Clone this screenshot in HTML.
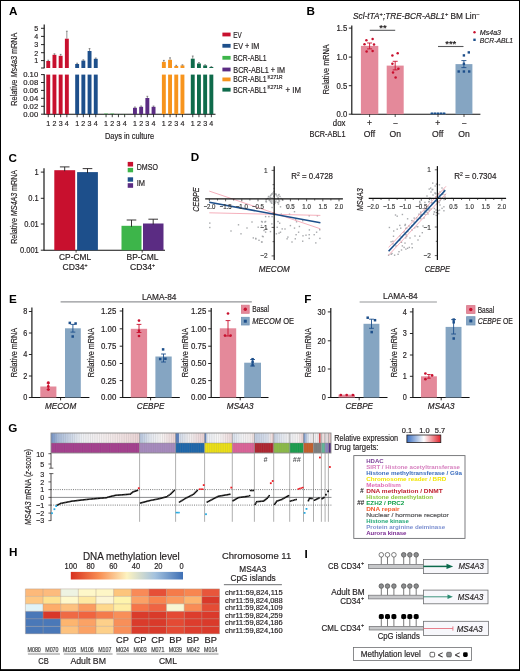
<!DOCTYPE html>
<html><head><meta charset="utf-8"><style>
html,body{margin:0;padding:0;background:#fff;}
svg{display:block;will-change:transform;}
text{font-family:"Liberation Sans",sans-serif;}
</style></head><body>
<svg width="520" height="671" viewBox="0 0 520 671">
<rect width="520" height="671" fill="#fff"/>
<text x="9.0" y="15.1" font-size="11.7" font-weight="bold" fill="#000">A</text>
<line x1="44.20" y1="24.60" x2="44.20" y2="68.30" stroke="#111111" stroke-width="1.15"/>
<line x1="41.00" y1="28.30" x2="44.20" y2="28.30" stroke="#111111" stroke-width="0.9"/>
<line x1="41.00" y1="36.40" x2="44.20" y2="36.40" stroke="#111111" stroke-width="0.9"/>
<line x1="41.00" y1="44.60" x2="44.20" y2="44.60" stroke="#111111" stroke-width="0.9"/>
<line x1="41.00" y1="52.70" x2="44.20" y2="52.70" stroke="#111111" stroke-width="0.9"/>
<line x1="41.00" y1="60.60" x2="44.20" y2="60.60" stroke="#111111" stroke-width="0.9"/>
<line x1="41.00" y1="68.00" x2="44.20" y2="68.00" stroke="#111111" stroke-width="0.9"/>
<text x="38.30" y="31.15" font-size="7.92" fill="#231f20" stroke="#231f20" stroke-width="0.18" text-anchor="end" textLength="3.96" lengthAdjust="spacingAndGlyphs">5</text>
<text x="38.30" y="39.25" font-size="7.92" fill="#231f20" stroke="#231f20" stroke-width="0.18" text-anchor="end" textLength="3.96" lengthAdjust="spacingAndGlyphs">4</text>
<text x="38.30" y="47.45" font-size="7.92" fill="#231f20" stroke="#231f20" stroke-width="0.18" text-anchor="end" textLength="3.96" lengthAdjust="spacingAndGlyphs">3</text>
<text x="38.30" y="55.55" font-size="7.92" fill="#231f20" stroke="#231f20" stroke-width="0.18" text-anchor="end" textLength="3.96" lengthAdjust="spacingAndGlyphs">2</text>
<text x="38.30" y="63.45" font-size="7.92" fill="#231f20" stroke="#231f20" stroke-width="0.18" text-anchor="end" textLength="3.96" lengthAdjust="spacingAndGlyphs">1</text>
<line x1="44.20" y1="74.30" x2="44.20" y2="114.60" stroke="#111111" stroke-width="1.15"/>
<line x1="41.00" y1="74.60" x2="44.20" y2="74.60" stroke="#111111" stroke-width="0.9"/>
<text x="23.20" y="77.37" font-size="7.7" fill="#231f20" stroke="#231f20" stroke-width="0.18" textLength="15.00" lengthAdjust="spacingAndGlyphs">0.10</text>
<line x1="41.00" y1="82.50" x2="44.20" y2="82.50" stroke="#111111" stroke-width="0.9"/>
<text x="23.20" y="85.27" font-size="7.7" fill="#231f20" stroke="#231f20" stroke-width="0.18" textLength="15.00" lengthAdjust="spacingAndGlyphs">0.08</text>
<line x1="41.00" y1="90.40" x2="44.20" y2="90.40" stroke="#111111" stroke-width="0.9"/>
<text x="23.20" y="93.17" font-size="7.7" fill="#231f20" stroke="#231f20" stroke-width="0.18" textLength="15.00" lengthAdjust="spacingAndGlyphs">0.06</text>
<line x1="41.00" y1="98.30" x2="44.20" y2="98.30" stroke="#111111" stroke-width="0.9"/>
<text x="23.20" y="101.07" font-size="7.7" fill="#231f20" stroke="#231f20" stroke-width="0.18" textLength="15.00" lengthAdjust="spacingAndGlyphs">0.04</text>
<line x1="41.00" y1="106.30" x2="44.20" y2="106.30" stroke="#111111" stroke-width="0.9"/>
<text x="23.20" y="109.07" font-size="7.7" fill="#231f20" stroke="#231f20" stroke-width="0.18" textLength="15.00" lengthAdjust="spacingAndGlyphs">0.02</text>
<line x1="41.00" y1="114.20" x2="44.20" y2="114.20" stroke="#111111" stroke-width="0.9"/>
<text x="23.20" y="116.97" font-size="7.7" fill="#231f20" stroke="#231f20" stroke-width="0.18" textLength="15.00" lengthAdjust="spacingAndGlyphs">0.00</text>
<line x1="44.20" y1="114.20" x2="215.50" y2="114.20" stroke="#111111" stroke-width="1.15"/>
<text transform="translate(17.13,69.20) rotate(-90)" font-size="8.69" fill="#231f20" stroke="#231f20" stroke-width="0.18" text-anchor="middle" textLength="73.00" lengthAdjust="spacingAndGlyphs">Relative <tspan font-style="italic">Ms4a3</tspan> mRNA</text>
<rect x="46.30" y="74.60" width="3.90" height="39.60" fill="#c8102e"/>
<rect x="46.30" y="61.00" width="3.90" height="7.00" fill="#c8102e"/>
<line x1="48.25" y1="60.20" x2="48.25" y2="61.00" stroke="#4a4a4a" stroke-width="0.6"/>
<line x1="47.35" y1="60.20" x2="49.15" y2="60.20" stroke="#4a4a4a" stroke-width="0.6"/>
<line x1="48.25" y1="114.20" x2="48.25" y2="117.20" stroke="#111111" stroke-width="0.8"/>
<text x="48.25" y="126.45" font-size="7.92" fill="#231f20" stroke="#231f20" stroke-width="0.18" text-anchor="middle" textLength="3.96" lengthAdjust="spacingAndGlyphs">1</text>
<rect x="52.50" y="74.60" width="3.90" height="39.60" fill="#c8102e"/>
<rect x="52.50" y="54.80" width="3.90" height="13.20" fill="#c8102e"/>
<line x1="54.45" y1="53.80" x2="54.45" y2="54.80" stroke="#4a4a4a" stroke-width="0.6"/>
<line x1="53.55" y1="53.80" x2="55.35" y2="53.80" stroke="#4a4a4a" stroke-width="0.6"/>
<line x1="54.45" y1="114.20" x2="54.45" y2="117.20" stroke="#111111" stroke-width="0.8"/>
<text x="54.45" y="126.45" font-size="7.92" fill="#231f20" stroke="#231f20" stroke-width="0.18" text-anchor="middle" textLength="3.96" lengthAdjust="spacingAndGlyphs">2</text>
<rect x="58.70" y="74.60" width="3.90" height="39.60" fill="#c8102e"/>
<rect x="58.70" y="55.80" width="3.90" height="12.20" fill="#c8102e"/>
<line x1="60.65" y1="54.40" x2="60.65" y2="55.80" stroke="#4a4a4a" stroke-width="0.6"/>
<line x1="59.75" y1="54.40" x2="61.55" y2="54.40" stroke="#4a4a4a" stroke-width="0.6"/>
<line x1="60.65" y1="114.20" x2="60.65" y2="117.20" stroke="#111111" stroke-width="0.8"/>
<text x="60.65" y="126.45" font-size="7.92" fill="#231f20" stroke="#231f20" stroke-width="0.18" text-anchor="middle" textLength="3.96" lengthAdjust="spacingAndGlyphs">3</text>
<rect x="64.90" y="74.60" width="3.90" height="39.60" fill="#c8102e"/>
<rect x="64.90" y="38.70" width="3.90" height="29.30" fill="#c8102e"/>
<line x1="66.85" y1="31.20" x2="66.85" y2="38.70" stroke="#4a4a4a" stroke-width="0.6"/>
<line x1="65.95" y1="31.20" x2="67.75" y2="31.20" stroke="#4a4a4a" stroke-width="0.6"/>
<line x1="66.85" y1="114.20" x2="66.85" y2="117.20" stroke="#111111" stroke-width="0.8"/>
<text x="66.85" y="126.45" font-size="7.92" fill="#231f20" stroke="#231f20" stroke-width="0.18" text-anchor="middle" textLength="3.96" lengthAdjust="spacingAndGlyphs">4</text>
<rect x="75.20" y="74.60" width="3.90" height="39.60" fill="#1d4f8b"/>
<rect x="75.20" y="64.00" width="3.90" height="4.00" fill="#1d4f8b"/>
<line x1="77.15" y1="63.20" x2="77.15" y2="64.00" stroke="#4a4a4a" stroke-width="0.6"/>
<line x1="76.25" y1="63.20" x2="78.05" y2="63.20" stroke="#4a4a4a" stroke-width="0.6"/>
<line x1="77.15" y1="114.20" x2="77.15" y2="117.20" stroke="#111111" stroke-width="0.8"/>
<text x="77.15" y="126.45" font-size="7.92" fill="#231f20" stroke="#231f20" stroke-width="0.18" text-anchor="middle" textLength="3.96" lengthAdjust="spacingAndGlyphs">1</text>
<rect x="81.40" y="74.60" width="3.90" height="39.60" fill="#1d4f8b"/>
<rect x="81.40" y="60.60" width="3.90" height="7.40" fill="#1d4f8b"/>
<line x1="83.35" y1="59.80" x2="83.35" y2="60.60" stroke="#4a4a4a" stroke-width="0.6"/>
<line x1="82.45" y1="59.80" x2="84.25" y2="59.80" stroke="#4a4a4a" stroke-width="0.6"/>
<line x1="83.35" y1="114.20" x2="83.35" y2="117.20" stroke="#111111" stroke-width="0.8"/>
<text x="83.35" y="126.45" font-size="7.92" fill="#231f20" stroke="#231f20" stroke-width="0.18" text-anchor="middle" textLength="3.96" lengthAdjust="spacingAndGlyphs">2</text>
<rect x="87.60" y="74.60" width="3.90" height="39.60" fill="#1d4f8b"/>
<rect x="87.60" y="51.00" width="3.90" height="17.00" fill="#1d4f8b"/>
<line x1="89.55" y1="48.60" x2="89.55" y2="51.00" stroke="#4a4a4a" stroke-width="0.6"/>
<line x1="88.65" y1="48.60" x2="90.45" y2="48.60" stroke="#4a4a4a" stroke-width="0.6"/>
<line x1="89.55" y1="114.20" x2="89.55" y2="117.20" stroke="#111111" stroke-width="0.8"/>
<text x="89.55" y="126.45" font-size="7.92" fill="#231f20" stroke="#231f20" stroke-width="0.18" text-anchor="middle" textLength="3.96" lengthAdjust="spacingAndGlyphs">3</text>
<rect x="93.80" y="74.60" width="3.90" height="39.60" fill="#1d4f8b"/>
<rect x="93.80" y="58.80" width="3.90" height="9.20" fill="#1d4f8b"/>
<line x1="95.75" y1="58.00" x2="95.75" y2="58.80" stroke="#4a4a4a" stroke-width="0.6"/>
<line x1="94.85" y1="58.00" x2="96.65" y2="58.00" stroke="#4a4a4a" stroke-width="0.6"/>
<line x1="95.75" y1="114.20" x2="95.75" y2="117.20" stroke="#111111" stroke-width="0.8"/>
<text x="95.75" y="126.45" font-size="7.92" fill="#231f20" stroke="#231f20" stroke-width="0.18" text-anchor="middle" textLength="3.96" lengthAdjust="spacingAndGlyphs">4</text>
<rect x="104.10" y="113.60" width="3.90" height="0.60" fill="#3db54a"/>
<line x1="106.05" y1="114.20" x2="106.05" y2="117.20" stroke="#111111" stroke-width="0.8"/>
<text x="106.05" y="126.45" font-size="7.92" fill="#231f20" stroke="#231f20" stroke-width="0.18" text-anchor="middle" textLength="3.96" lengthAdjust="spacingAndGlyphs">1</text>
<rect x="110.30" y="113.60" width="3.90" height="0.60" fill="#3db54a"/>
<line x1="112.25" y1="114.20" x2="112.25" y2="117.20" stroke="#111111" stroke-width="0.8"/>
<text x="112.25" y="126.45" font-size="7.92" fill="#231f20" stroke="#231f20" stroke-width="0.18" text-anchor="middle" textLength="3.96" lengthAdjust="spacingAndGlyphs">2</text>
<rect x="116.50" y="114.00" width="3.90" height="0.20" fill="#3db54a"/>
<line x1="118.45" y1="114.20" x2="118.45" y2="117.20" stroke="#111111" stroke-width="0.8"/>
<text x="118.45" y="126.45" font-size="7.92" fill="#231f20" stroke="#231f20" stroke-width="0.18" text-anchor="middle" textLength="3.96" lengthAdjust="spacingAndGlyphs">3</text>
<rect x="122.70" y="114.00" width="3.90" height="0.20" fill="#3db54a"/>
<line x1="124.65" y1="114.20" x2="124.65" y2="117.20" stroke="#111111" stroke-width="0.8"/>
<text x="124.65" y="126.45" font-size="7.92" fill="#231f20" stroke="#231f20" stroke-width="0.18" text-anchor="middle" textLength="3.96" lengthAdjust="spacingAndGlyphs">4</text>
<rect x="133.00" y="107.80" width="3.90" height="6.40" fill="#5b2c83"/>
<line x1="134.95" y1="107.00" x2="134.95" y2="107.80" stroke="#4a4a4a" stroke-width="0.6"/>
<line x1="134.05" y1="107.00" x2="135.85" y2="107.00" stroke="#4a4a4a" stroke-width="0.6"/>
<line x1="134.95" y1="114.20" x2="134.95" y2="117.20" stroke="#111111" stroke-width="0.8"/>
<text x="134.95" y="126.45" font-size="7.92" fill="#231f20" stroke="#231f20" stroke-width="0.18" text-anchor="middle" textLength="3.96" lengthAdjust="spacingAndGlyphs">1</text>
<rect x="139.20" y="106.80" width="3.90" height="7.40" fill="#5b2c83"/>
<line x1="141.15" y1="106.00" x2="141.15" y2="106.80" stroke="#4a4a4a" stroke-width="0.6"/>
<line x1="140.25" y1="106.00" x2="142.05" y2="106.00" stroke="#4a4a4a" stroke-width="0.6"/>
<line x1="141.15" y1="114.20" x2="141.15" y2="117.20" stroke="#111111" stroke-width="0.8"/>
<text x="141.15" y="126.45" font-size="7.92" fill="#231f20" stroke="#231f20" stroke-width="0.18" text-anchor="middle" textLength="3.96" lengthAdjust="spacingAndGlyphs">2</text>
<rect x="145.40" y="98.00" width="3.90" height="16.20" fill="#5b2c83"/>
<line x1="147.35" y1="96.30" x2="147.35" y2="98.00" stroke="#4a4a4a" stroke-width="0.6"/>
<line x1="146.45" y1="96.30" x2="148.25" y2="96.30" stroke="#4a4a4a" stroke-width="0.6"/>
<line x1="147.35" y1="114.20" x2="147.35" y2="117.20" stroke="#111111" stroke-width="0.8"/>
<text x="147.35" y="126.45" font-size="7.92" fill="#231f20" stroke="#231f20" stroke-width="0.18" text-anchor="middle" textLength="3.96" lengthAdjust="spacingAndGlyphs">3</text>
<rect x="151.60" y="106.80" width="3.90" height="7.40" fill="#5b2c83"/>
<line x1="153.55" y1="106.00" x2="153.55" y2="106.80" stroke="#4a4a4a" stroke-width="0.6"/>
<line x1="152.65" y1="106.00" x2="154.45" y2="106.00" stroke="#4a4a4a" stroke-width="0.6"/>
<line x1="153.55" y1="114.20" x2="153.55" y2="117.20" stroke="#111111" stroke-width="0.8"/>
<text x="153.55" y="126.45" font-size="7.92" fill="#231f20" stroke="#231f20" stroke-width="0.18" text-anchor="middle" textLength="3.96" lengthAdjust="spacingAndGlyphs">4</text>
<rect x="161.90" y="74.60" width="3.90" height="39.60" fill="#f7941d"/>
<rect x="161.90" y="61.90" width="3.90" height="6.10" fill="#f7941d"/>
<line x1="163.85" y1="60.40" x2="163.85" y2="61.90" stroke="#4a4a4a" stroke-width="0.6"/>
<line x1="162.95" y1="60.40" x2="164.75" y2="60.40" stroke="#4a4a4a" stroke-width="0.6"/>
<line x1="163.85" y1="114.20" x2="163.85" y2="117.20" stroke="#111111" stroke-width="0.8"/>
<text x="163.85" y="126.45" font-size="7.92" fill="#231f20" stroke="#231f20" stroke-width="0.18" text-anchor="middle" textLength="3.96" lengthAdjust="spacingAndGlyphs">1</text>
<rect x="168.10" y="74.60" width="3.90" height="39.60" fill="#f7941d"/>
<rect x="168.10" y="59.80" width="3.90" height="8.20" fill="#f7941d"/>
<line x1="170.05" y1="57.80" x2="170.05" y2="59.80" stroke="#4a4a4a" stroke-width="0.6"/>
<line x1="169.15" y1="57.80" x2="170.95" y2="57.80" stroke="#4a4a4a" stroke-width="0.6"/>
<line x1="170.05" y1="114.20" x2="170.05" y2="117.20" stroke="#111111" stroke-width="0.8"/>
<text x="170.05" y="126.45" font-size="7.92" fill="#231f20" stroke="#231f20" stroke-width="0.18" text-anchor="middle" textLength="3.96" lengthAdjust="spacingAndGlyphs">2</text>
<rect x="174.30" y="74.60" width="3.90" height="39.60" fill="#f7941d"/>
<rect x="174.30" y="66.00" width="3.90" height="2.00" fill="#f7941d"/>
<line x1="176.25" y1="65.30" x2="176.25" y2="66.00" stroke="#4a4a4a" stroke-width="0.6"/>
<line x1="175.35" y1="65.30" x2="177.15" y2="65.30" stroke="#4a4a4a" stroke-width="0.6"/>
<line x1="176.25" y1="114.20" x2="176.25" y2="117.20" stroke="#111111" stroke-width="0.8"/>
<text x="176.25" y="126.45" font-size="7.92" fill="#231f20" stroke="#231f20" stroke-width="0.18" text-anchor="middle" textLength="3.96" lengthAdjust="spacingAndGlyphs">3</text>
<rect x="180.50" y="74.60" width="3.90" height="39.60" fill="#f7941d"/>
<rect x="180.50" y="65.40" width="3.90" height="2.60" fill="#f7941d"/>
<line x1="182.45" y1="64.80" x2="182.45" y2="65.40" stroke="#4a4a4a" stroke-width="0.6"/>
<line x1="181.55" y1="64.80" x2="183.35" y2="64.80" stroke="#4a4a4a" stroke-width="0.6"/>
<line x1="182.45" y1="114.20" x2="182.45" y2="117.20" stroke="#111111" stroke-width="0.8"/>
<text x="182.45" y="126.45" font-size="7.92" fill="#231f20" stroke="#231f20" stroke-width="0.18" text-anchor="middle" textLength="3.96" lengthAdjust="spacingAndGlyphs">4</text>
<rect x="190.80" y="74.60" width="3.90" height="39.60" fill="#0f6b4b"/>
<rect x="190.80" y="58.70" width="3.90" height="9.30" fill="#0f6b4b"/>
<line x1="192.75" y1="56.00" x2="192.75" y2="58.70" stroke="#4a4a4a" stroke-width="0.6"/>
<line x1="191.85" y1="56.00" x2="193.65" y2="56.00" stroke="#4a4a4a" stroke-width="0.6"/>
<line x1="192.75" y1="114.20" x2="192.75" y2="117.20" stroke="#111111" stroke-width="0.8"/>
<text x="192.75" y="126.45" font-size="7.92" fill="#231f20" stroke="#231f20" stroke-width="0.18" text-anchor="middle" textLength="3.96" lengthAdjust="spacingAndGlyphs">1</text>
<rect x="197.00" y="74.60" width="3.90" height="39.60" fill="#0f6b4b"/>
<rect x="197.00" y="63.50" width="3.90" height="4.50" fill="#0f6b4b"/>
<line x1="198.95" y1="62.60" x2="198.95" y2="63.50" stroke="#4a4a4a" stroke-width="0.6"/>
<line x1="198.05" y1="62.60" x2="199.85" y2="62.60" stroke="#4a4a4a" stroke-width="0.6"/>
<line x1="198.95" y1="114.20" x2="198.95" y2="117.20" stroke="#111111" stroke-width="0.8"/>
<text x="198.95" y="126.45" font-size="7.92" fill="#231f20" stroke="#231f20" stroke-width="0.18" text-anchor="middle" textLength="3.96" lengthAdjust="spacingAndGlyphs">2</text>
<rect x="203.20" y="74.60" width="3.90" height="39.60" fill="#0f6b4b"/>
<rect x="203.20" y="65.40" width="3.90" height="2.60" fill="#0f6b4b"/>
<line x1="205.15" y1="64.80" x2="205.15" y2="65.40" stroke="#4a4a4a" stroke-width="0.6"/>
<line x1="204.25" y1="64.80" x2="206.05" y2="64.80" stroke="#4a4a4a" stroke-width="0.6"/>
<line x1="205.15" y1="114.20" x2="205.15" y2="117.20" stroke="#111111" stroke-width="0.8"/>
<text x="205.15" y="126.45" font-size="7.92" fill="#231f20" stroke="#231f20" stroke-width="0.18" text-anchor="middle" textLength="3.96" lengthAdjust="spacingAndGlyphs">3</text>
<rect x="209.40" y="74.60" width="3.90" height="39.60" fill="#0f6b4b"/>
<rect x="209.40" y="67.00" width="3.90" height="1.00" fill="#0f6b4b"/>
<line x1="211.35" y1="66.60" x2="211.35" y2="67.00" stroke="#4a4a4a" stroke-width="0.6"/>
<line x1="210.45" y1="66.60" x2="212.25" y2="66.60" stroke="#4a4a4a" stroke-width="0.6"/>
<line x1="211.35" y1="114.20" x2="211.35" y2="117.20" stroke="#111111" stroke-width="0.8"/>
<text x="211.35" y="126.45" font-size="7.92" fill="#231f20" stroke="#231f20" stroke-width="0.18" text-anchor="middle" textLength="3.96" lengthAdjust="spacingAndGlyphs">4</text>
<text x="105.00" y="139.01" font-size="8.36" fill="#231f20" stroke="#231f20" stroke-width="0.18" textLength="49.00" lengthAdjust="spacingAndGlyphs">Days in culture</text>
<rect x="222.40" y="32.60" width="8.20" height="3.80" fill="#c8102e"/>
<rect x="222.40" y="43.90" width="8.20" height="3.80" fill="#1d4f8b"/>
<rect x="222.40" y="55.90" width="8.20" height="3.80" fill="#3db54a"/>
<rect x="222.40" y="67.60" width="8.20" height="3.80" fill="#5b2c83"/>
<rect x="222.40" y="77.50" width="8.20" height="3.80" fill="#f7941d"/>
<rect x="222.40" y="87.80" width="8.20" height="3.80" fill="#0f6b4b"/>
<text x="233.30" y="37.59" font-size="8.58" fill="#231f20" stroke="#231f20" stroke-width="0.18" textLength="8.40" lengthAdjust="spacingAndGlyphs">EV</text>
<text x="233.30" y="48.89" font-size="8.58" fill="#231f20" stroke="#231f20" stroke-width="0.18" textLength="26.00" lengthAdjust="spacingAndGlyphs">EV + IM</text>
<text x="233.30" y="60.89" font-size="8.58" fill="#231f20" stroke="#231f20" stroke-width="0.18" textLength="33.30" lengthAdjust="spacingAndGlyphs">BCR-ABL1</text>
<text x="233.30" y="72.59" font-size="8.58" fill="#231f20" stroke="#231f20" stroke-width="0.18" textLength="51.70" lengthAdjust="spacingAndGlyphs">BCR-ABL1 + IM</text>
<text x="233.30" y="82.49" font-size="8.58" fill="#231f20" stroke="#231f20" stroke-width="0.18" textLength="33.30" lengthAdjust="spacingAndGlyphs">BCR-ABL1</text>
<text x="267.60" y="78.58" font-size="5.5" fill="#231f20" stroke="#231f20" stroke-width="0.18" textLength="15.00" lengthAdjust="spacingAndGlyphs">K271R</text>
<text x="233.30" y="92.79" font-size="8.58" fill="#231f20" stroke="#231f20" stroke-width="0.18" textLength="33.30" lengthAdjust="spacingAndGlyphs">BCR-ABL1</text>
<text x="267.60" y="88.88" font-size="5.5" fill="#231f20" stroke="#231f20" stroke-width="0.18" textLength="15.00" lengthAdjust="spacingAndGlyphs">K271R</text>
<text x="285.50" y="92.79" font-size="8.58" fill="#231f20" stroke="#231f20" stroke-width="0.18" textLength="15.50" lengthAdjust="spacingAndGlyphs">+ IM</text>
<text x="306.6" y="15.1" font-size="11.7" font-weight="bold" fill="#000">B</text>
<text x="353.10" y="19.31" font-size="8.36" fill="#231f20" stroke="#231f20" stroke-width="0.18" textLength="126.50" lengthAdjust="spacingAndGlyphs"><tspan font-style="italic">Scl-tTA</tspan><tspan font-size="5.8" dy="-2.9">+</tspan><tspan dy="2.9" font-style="italic">;TRE-BCR-ABL1</tspan><tspan font-size="5.8" dy="-2.9">+</tspan><tspan dy="2.9"> BM Lin</tspan><tspan font-size="5.8" dy="-2.9">−</tspan></text>
<line x1="351.80" y1="25.40" x2="351.80" y2="114.60" stroke="#111111" stroke-width="1.15"/>
<line x1="348.80" y1="28.10" x2="351.80" y2="28.10" stroke="#111111" stroke-width="0.9"/>
<text x="347.20" y="31.19" font-size="8.58" fill="#231f20" stroke="#231f20" stroke-width="0.18" text-anchor="end" textLength="10.73" lengthAdjust="spacingAndGlyphs">1.5</text>
<line x1="348.80" y1="57.10" x2="351.80" y2="57.10" stroke="#111111" stroke-width="0.9"/>
<text x="347.20" y="60.19" font-size="8.58" fill="#231f20" stroke="#231f20" stroke-width="0.18" text-anchor="end" textLength="10.73" lengthAdjust="spacingAndGlyphs">1.0</text>
<line x1="348.80" y1="85.70" x2="351.80" y2="85.70" stroke="#111111" stroke-width="0.9"/>
<text x="347.20" y="88.79" font-size="8.58" fill="#231f20" stroke="#231f20" stroke-width="0.18" text-anchor="end" textLength="10.73" lengthAdjust="spacingAndGlyphs">0.5</text>
<line x1="348.80" y1="114.20" x2="351.80" y2="114.20" stroke="#111111" stroke-width="0.9"/>
<text x="347.20" y="117.29" font-size="8.58" fill="#231f20" stroke="#231f20" stroke-width="0.18" text-anchor="end" textLength="10.73" lengthAdjust="spacingAndGlyphs">0.0</text>
<line x1="351.80" y1="114.20" x2="480.40" y2="114.20" stroke="#111111" stroke-width="1.15"/>
<text transform="translate(328.97,69.30) rotate(-90)" font-size="8.8" fill="#231f20" stroke="#231f20" stroke-width="0.18" text-anchor="middle" textLength="49.70" lengthAdjust="spacingAndGlyphs">Relative mRNA</text>
<rect x="360.90" y="45.90" width="17.40" height="68.30" fill="#e4899a"/>
<rect x="386.70" y="65.60" width="17.00" height="48.60" fill="#e4899a"/>
<rect x="430.00" y="112.90" width="16.00" height="1.30" fill="#85a5c2"/>
<rect x="455.50" y="64.10" width="16.90" height="50.10" fill="#85a5c2"/>
<line x1="369.60" y1="43.00" x2="369.60" y2="48.90" stroke="#c8102e" stroke-width="0.9"/>
<line x1="367.10" y1="43.00" x2="372.10" y2="43.00" stroke="#c8102e" stroke-width="0.9"/>
<line x1="367.10" y1="48.90" x2="372.10" y2="48.90" stroke="#c8102e" stroke-width="0.9"/>
<line x1="395.20" y1="61.30" x2="395.20" y2="69.90" stroke="#c8102e" stroke-width="0.9"/>
<line x1="392.70" y1="61.30" x2="397.70" y2="61.30" stroke="#c8102e" stroke-width="0.9"/>
<line x1="392.70" y1="69.90" x2="397.70" y2="69.90" stroke="#c8102e" stroke-width="0.9"/>
<line x1="463.90" y1="60.60" x2="463.90" y2="67.60" stroke="#1d4f8b" stroke-width="0.9"/>
<line x1="461.40" y1="60.60" x2="466.40" y2="60.60" stroke="#1d4f8b" stroke-width="0.9"/>
<line x1="461.40" y1="67.60" x2="466.40" y2="67.60" stroke="#1d4f8b" stroke-width="0.9"/>
<circle cx="366.40" cy="40.20" r="1.25" fill="#c8102e"/>
<circle cx="372.60" cy="39.00" r="1.25" fill="#c8102e"/>
<circle cx="364.50" cy="44.30" r="1.25" fill="#c8102e"/>
<circle cx="374.00" cy="44.60" r="1.25" fill="#c8102e"/>
<circle cx="366.60" cy="51.40" r="1.25" fill="#c8102e"/>
<circle cx="372.60" cy="51.00" r="1.25" fill="#c8102e"/>
<circle cx="392.40" cy="55.60" r="1.25" fill="#c8102e"/>
<circle cx="397.70" cy="53.30" r="1.25" fill="#c8102e"/>
<circle cx="392.40" cy="63.80" r="1.25" fill="#c8102e"/>
<circle cx="398.40" cy="68.80" r="1.25" fill="#c8102e"/>
<circle cx="393.00" cy="72.60" r="1.25" fill="#c8102e"/>
<circle cx="395.60" cy="77.60" r="1.25" fill="#c8102e"/>
<rect x="462.70" y="54.20" width="2.40" height="2.40" fill="#1d4f8b"/>
<rect x="467.60" y="51.20" width="2.40" height="2.40" fill="#1d4f8b"/>
<rect x="457.50" y="70.30" width="2.40" height="2.40" fill="#1d4f8b"/>
<rect x="462.70" y="70.30" width="2.40" height="2.40" fill="#1d4f8b"/>
<rect x="468.00" y="70.30" width="2.40" height="2.40" fill="#1d4f8b"/>
<rect x="462.70" y="62.60" width="2.40" height="2.40" fill="#1d4f8b"/>
<rect x="430.80" y="112.50" width="2.40" height="1.70" fill="#1d4f8b"/>
<rect x="433.80" y="112.50" width="2.40" height="1.70" fill="#1d4f8b"/>
<rect x="436.80" y="112.50" width="2.40" height="1.70" fill="#1d4f8b"/>
<rect x="439.80" y="112.50" width="2.40" height="1.70" fill="#1d4f8b"/>
<rect x="442.80" y="112.50" width="2.40" height="1.70" fill="#1d4f8b"/>
<line x1="369.80" y1="30.30" x2="395.20" y2="30.30" stroke="#58595b" stroke-width="1.1"/>
<text x="382.90" y="30.71" font-size="9.46" fill="#231f20" stroke="#231f20" stroke-width="0" font-weight="bold" text-anchor="middle">**</text>
<line x1="438.00" y1="46.50" x2="463.50" y2="46.50" stroke="#58595b" stroke-width="1.1"/>
<text x="450.80" y="47.31" font-size="9.46" fill="#231f20" stroke="#231f20" stroke-width="0" font-weight="bold" text-anchor="middle">***</text>
<circle cx="474.50" cy="32.20" r="1.2" fill="#c8102e"/>
<text x="479.80" y="35.05" font-size="7.92" fill="#231f20" stroke="#231f20" stroke-width="0.18" font-style="italic" textLength="21.20" lengthAdjust="spacingAndGlyphs">Ms4a3</text>
<rect x="473.30" y="38.60" width="2.40" height="2.40" fill="#1d4f8b"/>
<text x="479.80" y="42.65" font-size="7.92" fill="#231f20" stroke="#231f20" stroke-width="0.18" font-style="italic" textLength="33.20" lengthAdjust="spacingAndGlyphs">BCR-ABL1</text>
<line x1="369.60" y1="114.20" x2="369.60" y2="117.00" stroke="#231f20" stroke-width="0.8"/>
<line x1="395.20" y1="114.20" x2="395.20" y2="117.00" stroke="#231f20" stroke-width="0.8"/>
<line x1="438.00" y1="114.20" x2="438.00" y2="117.00" stroke="#231f20" stroke-width="0.8"/>
<line x1="464.00" y1="114.20" x2="464.00" y2="117.00" stroke="#231f20" stroke-width="0.8"/>
<text x="332.80" y="125.79" font-size="8.58" fill="#231f20" stroke="#231f20" stroke-width="0.18" textLength="12.70" lengthAdjust="spacingAndGlyphs">dox</text>
<text x="369.40" y="125.79" font-size="8.58" fill="#231f20" stroke="#231f20" stroke-width="0.18" text-anchor="middle">+</text>
<text x="395.20" y="125.79" font-size="8.58" fill="#231f20" stroke="#231f20" stroke-width="0.18" text-anchor="middle">−</text>
<text x="437.70" y="125.79" font-size="8.58" fill="#231f20" stroke="#231f20" stroke-width="0.18" text-anchor="middle">+</text>
<text x="464.00" y="125.79" font-size="8.58" fill="#231f20" stroke="#231f20" stroke-width="0.18" text-anchor="middle">−</text>
<text x="309.50" y="136.79" font-size="8.58" fill="#231f20" stroke="#231f20" stroke-width="0.18" textLength="36.00" lengthAdjust="spacingAndGlyphs">BCR-ABL1</text>
<text x="369.40" y="136.79" font-size="8.58" fill="#231f20" stroke="#231f20" stroke-width="0.18" text-anchor="middle">Off</text>
<text x="395.20" y="136.79" font-size="8.58" fill="#231f20" stroke="#231f20" stroke-width="0.18" text-anchor="middle">On</text>
<text x="437.70" y="136.79" font-size="8.58" fill="#231f20" stroke="#231f20" stroke-width="0.18" text-anchor="middle">Off</text>
<text x="464.00" y="136.79" font-size="8.58" fill="#231f20" stroke="#231f20" stroke-width="0.18" text-anchor="middle">On</text>
<text x="8.5" y="162.0" font-size="11.7" font-weight="bold" fill="#000">C</text>
<line x1="44.00" y1="168.30" x2="44.00" y2="250.60" stroke="#111111" stroke-width="1.15"/>
<line x1="40.80" y1="172.10" x2="44.00" y2="172.10" stroke="#111111" stroke-width="0.9"/>
<text x="38.80" y="175.11" font-size="8.36" fill="#231f20" stroke="#231f20" stroke-width="0.18" text-anchor="end" textLength="4.18" lengthAdjust="spacingAndGlyphs">1</text>
<line x1="40.80" y1="198.30" x2="44.00" y2="198.30" stroke="#111111" stroke-width="0.9"/>
<text x="38.80" y="201.31" font-size="8.36" fill="#231f20" stroke="#231f20" stroke-width="0.18" text-anchor="end" textLength="10.46" lengthAdjust="spacingAndGlyphs">0.1</text>
<line x1="40.80" y1="224.00" x2="44.00" y2="224.00" stroke="#111111" stroke-width="0.9"/>
<text x="38.80" y="227.01" font-size="8.36" fill="#231f20" stroke="#231f20" stroke-width="0.18" text-anchor="end" textLength="14.64" lengthAdjust="spacingAndGlyphs">0.01</text>
<line x1="40.80" y1="250.20" x2="44.00" y2="250.20" stroke="#111111" stroke-width="0.9"/>
<text x="38.80" y="253.21" font-size="8.36" fill="#231f20" stroke="#231f20" stroke-width="0.18" text-anchor="end" textLength="18.83" lengthAdjust="spacingAndGlyphs">0.001</text>
<line x1="44.00" y1="250.20" x2="165.00" y2="250.20" stroke="#111111" stroke-width="1.15"/>
<rect x="54.30" y="170.20" width="20.90" height="80.00" fill="#c8102e"/>
<rect x="77.10" y="172.10" width="20.80" height="78.10" fill="#1d4f8b"/>
<rect x="121.50" y="225.80" width="20.00" height="24.40" fill="#3db54a"/>
<rect x="143.00" y="223.50" width="20.50" height="26.70" fill="#5b2c83"/>
<line x1="64.70" y1="166.90" x2="64.70" y2="171.20" stroke="#231f20" stroke-width="0.9"/>
<line x1="59.90" y1="166.90" x2="69.50" y2="166.90" stroke="#231f20" stroke-width="0.9"/>
<line x1="87.50" y1="168.60" x2="87.50" y2="173.10" stroke="#231f20" stroke-width="0.9"/>
<line x1="82.70" y1="168.60" x2="92.30" y2="168.60" stroke="#231f20" stroke-width="0.9"/>
<line x1="131.50" y1="220.00" x2="131.50" y2="226.80" stroke="#231f20" stroke-width="0.9"/>
<line x1="126.70" y1="220.00" x2="136.30" y2="220.00" stroke="#231f20" stroke-width="0.9"/>
<line x1="153.20" y1="219.20" x2="153.20" y2="224.50" stroke="#231f20" stroke-width="0.9"/>
<line x1="148.40" y1="219.20" x2="158.00" y2="219.20" stroke="#231f20" stroke-width="0.9"/>
<line x1="76.10" y1="250.20" x2="76.10" y2="252.60" stroke="#231f20" stroke-width="0.8"/>
<line x1="142.20" y1="250.20" x2="142.20" y2="252.60" stroke="#231f20" stroke-width="0.8"/>
<text x="75.10" y="260.49" font-size="8.58" fill="#231f20" stroke="#231f20" stroke-width="0.18" text-anchor="middle" textLength="32.00" lengthAdjust="spacingAndGlyphs">CP-CML</text>
<text x="75.10" y="270.09" font-size="8.58" fill="#231f20" stroke="#231f20" stroke-width="0.18" text-anchor="middle">CD34<tspan font-size="5.2" dy="-2.8">+</tspan></text>
<text x="142.50" y="260.49" font-size="8.58" fill="#231f20" stroke="#231f20" stroke-width="0.18" text-anchor="middle" textLength="32.00" lengthAdjust="spacingAndGlyphs">BP-CML</text>
<text x="142.50" y="270.09" font-size="8.58" fill="#231f20" stroke="#231f20" stroke-width="0.18" text-anchor="middle">CD34<tspan font-size="5.2" dy="-2.8">+</tspan></text>
<rect x="127.70" y="161.90" width="5.40" height="4.60" fill="#c8102e"/>
<rect x="127.70" y="167.90" width="5.40" height="4.40" fill="#3db54a"/>
<rect x="127.70" y="177.30" width="5.40" height="4.40" fill="#1d4f8b"/>
<rect x="127.70" y="183.20" width="5.40" height="4.60" fill="#5b2c83"/>
<text x="136.70" y="170.09" font-size="8.58" fill="#231f20" stroke="#231f20" stroke-width="0.18" textLength="21.20" lengthAdjust="spacingAndGlyphs">DMSO</text>
<text x="136.70" y="186.19" font-size="8.58" fill="#231f20" stroke="#231f20" stroke-width="0.18" textLength="8.30" lengthAdjust="spacingAndGlyphs">IM</text>
<text transform="translate(16.73,206.90) rotate(-90)" font-size="8.69" fill="#231f20" stroke="#231f20" stroke-width="0.18" text-anchor="middle" textLength="73.80" lengthAdjust="spacingAndGlyphs">Relative <tspan font-style="italic">MS4A3</tspan> mRNA</text>
<text x="190.8" y="161.0" font-size="11.7" font-weight="bold" fill="#000">D</text>
<rect x="209.10" y="222.40" width="1.40" height="1.40" fill="#a7a9ac"/>
<rect x="209.10" y="226.80" width="1.40" height="1.40" fill="#a7a9ac"/>
<rect x="237.80" y="224.10" width="1.40" height="1.40" fill="#a7a9ac"/>
<rect x="240.30" y="233.10" width="1.40" height="1.40" fill="#a7a9ac"/>
<rect x="261.60" y="221.30" width="1.40" height="1.40" fill="#a7a9ac"/>
<rect x="264.90" y="220.80" width="1.40" height="1.40" fill="#a7a9ac"/>
<rect x="257.50" y="226.50" width="1.40" height="1.40" fill="#a7a9ac"/>
<rect x="260.80" y="224.90" width="1.40" height="1.40" fill="#a7a9ac"/>
<rect x="263.30" y="229.80" width="1.40" height="1.40" fill="#a7a9ac"/>
<rect x="264.90" y="231.40" width="1.40" height="1.40" fill="#a7a9ac"/>
<rect x="252.60" y="237.20" width="1.40" height="1.40" fill="#a7a9ac"/>
<rect x="255.00" y="237.70" width="1.40" height="1.40" fill="#a7a9ac"/>
<rect x="258.30" y="239.60" width="1.40" height="1.40" fill="#a7a9ac"/>
<rect x="261.30" y="241.30" width="1.40" height="1.40" fill="#a7a9ac"/>
<rect x="262.40" y="236.00" width="1.40" height="1.40" fill="#a7a9ac"/>
<rect x="271.40" y="215.90" width="1.40" height="1.40" fill="#a7a9ac"/>
<rect x="268.20" y="215.90" width="1.40" height="1.40" fill="#a7a9ac"/>
<rect x="264.90" y="215.90" width="1.40" height="1.40" fill="#a7a9ac"/>
<rect x="271.40" y="206.80" width="1.40" height="1.40" fill="#a7a9ac"/>
<rect x="269.80" y="201.10" width="1.40" height="1.40" fill="#a7a9ac"/>
<rect x="265.70" y="201.10" width="1.40" height="1.40" fill="#a7a9ac"/>
<rect x="260.90" y="220.80" width="1.40" height="1.40" fill="#a7a9ac"/>
<rect x="264.20" y="221.30" width="1.40" height="1.40" fill="#a7a9ac"/>
<rect x="265.90" y="228.20" width="1.40" height="1.40" fill="#a7a9ac"/>
<rect x="261.80" y="235.60" width="1.40" height="1.40" fill="#a7a9ac"/>
<rect x="260.90" y="241.30" width="1.40" height="1.40" fill="#a7a9ac"/>
<rect x="277.30" y="220.80" width="1.40" height="1.40" fill="#a7a9ac"/>
<rect x="279.00" y="222.50" width="1.40" height="1.40" fill="#a7a9ac"/>
<rect x="276.50" y="226.60" width="1.40" height="1.40" fill="#a7a9ac"/>
<rect x="281.50" y="228.20" width="1.40" height="1.40" fill="#a7a9ac"/>
<rect x="279.80" y="231.50" width="1.40" height="1.40" fill="#a7a9ac"/>
<rect x="275.70" y="233.10" width="1.40" height="1.40" fill="#a7a9ac"/>
<rect x="289.70" y="224.90" width="1.40" height="1.40" fill="#a7a9ac"/>
<rect x="293.80" y="227.40" width="1.40" height="1.40" fill="#a7a9ac"/>
<rect x="298.70" y="225.80" width="1.40" height="1.40" fill="#a7a9ac"/>
<rect x="297.90" y="231.50" width="1.40" height="1.40" fill="#a7a9ac"/>
<rect x="295.40" y="234.00" width="1.40" height="1.40" fill="#a7a9ac"/>
<rect x="287.20" y="236.40" width="1.40" height="1.40" fill="#a7a9ac"/>
<rect x="286.40" y="238.10" width="1.40" height="1.40" fill="#a7a9ac"/>
<rect x="294.60" y="238.10" width="1.40" height="1.40" fill="#a7a9ac"/>
<rect x="302.00" y="240.50" width="1.40" height="1.40" fill="#a7a9ac"/>
<rect x="302.30" y="235.10" width="1.40" height="1.40" fill="#a7a9ac"/>
<rect x="305.30" y="234.50" width="1.40" height="1.40" fill="#a7a9ac"/>
<rect x="308.50" y="234.00" width="1.40" height="1.40" fill="#a7a9ac"/>
<rect x="313.50" y="234.00" width="1.40" height="1.40" fill="#a7a9ac"/>
<rect x="315.90" y="231.50" width="1.40" height="1.40" fill="#a7a9ac"/>
<rect x="319.20" y="237.70" width="1.40" height="1.40" fill="#a7a9ac"/>
<rect x="315.10" y="242.20" width="1.40" height="1.40" fill="#a7a9ac"/>
<rect x="308.50" y="237.70" width="1.40" height="1.40" fill="#a7a9ac"/>
<rect x="302.00" y="220.00" width="1.40" height="1.40" fill="#a7a9ac"/>
<rect x="308.50" y="215.10" width="1.40" height="1.40" fill="#a7a9ac"/>
<rect x="316.70" y="215.10" width="1.40" height="1.40" fill="#a7a9ac"/>
<rect x="293.80" y="211.00" width="1.40" height="1.40" fill="#a7a9ac"/>
<rect x="288.80" y="213.50" width="1.40" height="1.40" fill="#a7a9ac"/>
<rect x="280.60" y="213.50" width="1.40" height="1.40" fill="#a7a9ac"/>
<rect x="279.80" y="206.10" width="1.40" height="1.40" fill="#a7a9ac"/>
<rect x="285.60" y="204.90" width="1.40" height="1.40" fill="#a7a9ac"/>
<rect x="230.30" y="230.30" width="1.40" height="1.40" fill="#a7a9ac"/>
<rect x="246.30" y="227.30" width="1.40" height="1.40" fill="#a7a9ac"/>
<rect x="251.30" y="221.30" width="1.40" height="1.40" fill="#a7a9ac"/>
<rect x="284.30" y="228.30" width="1.40" height="1.40" fill="#a7a9ac"/>
<rect x="291.30" y="241.30" width="1.40" height="1.40" fill="#a7a9ac"/>
<rect x="270.30" y="194.30" width="1.40" height="1.40" fill="#a7a9ac"/>
<rect x="272.30" y="192.30" width="1.40" height="1.40" fill="#a7a9ac"/>
<rect x="274.30" y="193.30" width="1.40" height="1.40" fill="#a7a9ac"/>
<rect x="276.30" y="195.30" width="1.40" height="1.40" fill="#a7a9ac"/>
<rect x="271.30" y="197.30" width="1.40" height="1.40" fill="#a7a9ac"/>
<rect x="275.30" y="199.30" width="1.40" height="1.40" fill="#a7a9ac"/>
<rect x="269.30" y="199.30" width="1.40" height="1.40" fill="#a7a9ac"/>
<rect x="277.30" y="198.30" width="1.40" height="1.40" fill="#a7a9ac"/>
<rect x="273.30" y="195.80" width="1.40" height="1.40" fill="#a7a9ac"/>
<rect x="272.30" y="200.30" width="1.40" height="1.40" fill="#a7a9ac"/>
<rect x="274.30" y="202.30" width="1.40" height="1.40" fill="#a7a9ac"/>
<rect x="268.30" y="196.30" width="1.40" height="1.40" fill="#a7a9ac"/>
<rect x="278.30" y="193.80" width="1.40" height="1.40" fill="#a7a9ac"/>
<rect x="273.30" y="190.80" width="1.40" height="1.40" fill="#a7a9ac"/>
<rect x="267.80" y="195.80" width="1.40" height="1.40" fill="#a7a9ac"/>
<rect x="266.80" y="197.80" width="1.40" height="1.40" fill="#a7a9ac"/>
<rect x="268.80" y="199.80" width="1.40" height="1.40" fill="#a7a9ac"/>
<rect x="279.30" y="195.80" width="1.40" height="1.40" fill="#a7a9ac"/>
<rect x="280.30" y="197.80" width="1.40" height="1.40" fill="#a7a9ac"/>
<rect x="278.80" y="200.30" width="1.40" height="1.40" fill="#a7a9ac"/>
<rect x="276.80" y="201.80" width="1.40" height="1.40" fill="#a7a9ac"/>
<rect x="270.80" y="202.30" width="1.40" height="1.40" fill="#a7a9ac"/>
<rect x="273.30" y="203.80" width="1.40" height="1.40" fill="#a7a9ac"/>
<rect x="271.30" y="193.30" width="1.40" height="1.40" fill="#a7a9ac"/>
<rect x="275.30" y="193.30" width="1.40" height="1.40" fill="#a7a9ac"/>
<rect x="273.30" y="187.80" width="1.40" height="1.40" fill="#a7a9ac"/>
<rect x="265.30" y="200.80" width="1.40" height="1.40" fill="#a7a9ac"/>
<rect x="282.30" y="199.30" width="1.40" height="1.40" fill="#a7a9ac"/>
<rect x="277.80" y="203.30" width="1.40" height="1.40" fill="#a7a9ac"/>
<rect x="269.77" y="230.91" width="1.40" height="1.40" fill="#a7a9ac"/>
<rect x="278.35" y="232.40" width="1.40" height="1.40" fill="#a7a9ac"/>
<rect x="294.97" y="218.94" width="1.40" height="1.40" fill="#a7a9ac"/>
<rect x="255.16" y="238.24" width="1.40" height="1.40" fill="#a7a9ac"/>
<rect x="271.16" y="223.16" width="1.40" height="1.40" fill="#a7a9ac"/>
<rect x="319.02" y="229.06" width="1.40" height="1.40" fill="#a7a9ac"/>
<rect x="308.67" y="229.21" width="1.40" height="1.40" fill="#a7a9ac"/>
<rect x="295.84" y="221.07" width="1.40" height="1.40" fill="#a7a9ac"/>
<rect x="277.70" y="197.90" width="1.40" height="1.40" fill="#a7a9ac"/>
<rect x="278.30" y="199.49" width="1.40" height="1.40" fill="#a7a9ac"/>
<rect x="277.88" y="201.41" width="1.40" height="1.40" fill="#a7a9ac"/>
<rect x="275.11" y="201.00" width="1.40" height="1.40" fill="#a7a9ac"/>
<rect x="273.50" y="202.06" width="1.40" height="1.40" fill="#a7a9ac"/>
<rect x="271.13" y="202.48" width="1.40" height="1.40" fill="#a7a9ac"/>
<rect x="270.53" y="200.28" width="1.40" height="1.40" fill="#a7a9ac"/>
<rect x="268.70" y="199.49" width="1.40" height="1.40" fill="#a7a9ac"/>
<rect x="267.30" y="197.90" width="1.40" height="1.40" fill="#a7a9ac"/>
<rect x="269.62" y="196.61" width="1.40" height="1.40" fill="#a7a9ac"/>
<rect x="269.82" y="194.96" width="1.40" height="1.40" fill="#a7a9ac"/>
<rect x="271.13" y="193.32" width="1.40" height="1.40" fill="#a7a9ac"/>
<rect x="273.50" y="194.54" width="1.40" height="1.40" fill="#a7a9ac"/>
<rect x="275.49" y="194.06" width="1.40" height="1.40" fill="#a7a9ac"/>
<rect x="277.88" y="194.39" width="1.40" height="1.40" fill="#a7a9ac"/>
<rect x="277.38" y="196.61" width="1.40" height="1.40" fill="#a7a9ac"/>
<path d="M209.3,191.1 Q264.85,209.95 320.4,228.8" fill="none" stroke="#f4a7b4" stroke-width="0.9"/>
<path d="M209.3,212.8 Q264.85,214.1 320.4,215.4" fill="none" stroke="#f4a7b4" stroke-width="0.9"/>
<line x1="209.30" y1="202.30" x2="320.40" y2="222.70" stroke="#1d4f8b" stroke-width="1.6"/>
<line x1="205.20" y1="198.90" x2="342.90" y2="198.90" stroke="#111111" stroke-width="1.25"/>
<line x1="274.20" y1="166.20" x2="274.20" y2="260.00" stroke="#111111" stroke-width="1.25"/>
<line x1="209.40" y1="198.90" x2="209.40" y2="201.30" stroke="#231f20" stroke-width="0.7"/>
<line x1="217.50" y1="198.90" x2="217.50" y2="200.50" stroke="#231f20" stroke-width="0.7"/>
<line x1="225.60" y1="198.90" x2="225.60" y2="201.30" stroke="#231f20" stroke-width="0.7"/>
<line x1="233.70" y1="198.90" x2="233.70" y2="200.50" stroke="#231f20" stroke-width="0.7"/>
<line x1="241.80" y1="198.90" x2="241.80" y2="201.30" stroke="#231f20" stroke-width="0.7"/>
<line x1="249.90" y1="198.90" x2="249.90" y2="200.50" stroke="#231f20" stroke-width="0.7"/>
<line x1="258.00" y1="198.90" x2="258.00" y2="201.30" stroke="#231f20" stroke-width="0.7"/>
<line x1="266.10" y1="198.90" x2="266.10" y2="200.50" stroke="#231f20" stroke-width="0.7"/>
<line x1="282.30" y1="198.90" x2="282.30" y2="200.50" stroke="#231f20" stroke-width="0.7"/>
<line x1="290.40" y1="198.90" x2="290.40" y2="201.30" stroke="#231f20" stroke-width="0.7"/>
<line x1="298.50" y1="198.90" x2="298.50" y2="200.50" stroke="#231f20" stroke-width="0.7"/>
<line x1="306.60" y1="198.90" x2="306.60" y2="201.30" stroke="#231f20" stroke-width="0.7"/>
<line x1="314.70" y1="198.90" x2="314.70" y2="200.50" stroke="#231f20" stroke-width="0.7"/>
<line x1="322.80" y1="198.90" x2="322.80" y2="201.30" stroke="#231f20" stroke-width="0.7"/>
<line x1="330.90" y1="198.90" x2="330.90" y2="200.50" stroke="#231f20" stroke-width="0.7"/>
<line x1="339.00" y1="198.90" x2="339.00" y2="201.30" stroke="#231f20" stroke-width="0.7"/>
<text x="209.40" y="209.29" font-size="6.93" fill="#3a3a3a" stroke="#3a3a3a" stroke-width="0.18" text-anchor="middle" textLength="12.04" lengthAdjust="spacingAndGlyphs">−2.0</text>
<text x="225.60" y="209.29" font-size="6.93" fill="#3a3a3a" stroke="#3a3a3a" stroke-width="0.18" text-anchor="middle" textLength="12.04" lengthAdjust="spacingAndGlyphs">−1.5</text>
<text x="241.80" y="209.29" font-size="6.93" fill="#3a3a3a" stroke="#3a3a3a" stroke-width="0.18" text-anchor="middle" textLength="12.04" lengthAdjust="spacingAndGlyphs">−1.0</text>
<text x="258.00" y="209.29" font-size="6.93" fill="#3a3a3a" stroke="#3a3a3a" stroke-width="0.18" text-anchor="middle" textLength="12.04" lengthAdjust="spacingAndGlyphs">−0.5</text>
<text x="290.40" y="209.29" font-size="6.93" fill="#3a3a3a" stroke="#3a3a3a" stroke-width="0.18" text-anchor="middle" textLength="8.48" lengthAdjust="spacingAndGlyphs">0.5</text>
<text x="306.60" y="209.29" font-size="6.93" fill="#3a3a3a" stroke="#3a3a3a" stroke-width="0.18" text-anchor="middle" textLength="8.48" lengthAdjust="spacingAndGlyphs">1.0</text>
<text x="322.80" y="209.29" font-size="6.93" fill="#3a3a3a" stroke="#3a3a3a" stroke-width="0.18" text-anchor="middle" textLength="8.48" lengthAdjust="spacingAndGlyphs">1.5</text>
<text x="339.00" y="209.29" font-size="6.93" fill="#3a3a3a" stroke="#3a3a3a" stroke-width="0.18" text-anchor="middle" textLength="8.48" lengthAdjust="spacingAndGlyphs">2.0</text>
<line x1="271.60" y1="255.90" x2="274.20" y2="255.90" stroke="#231f20" stroke-width="0.7"/>
<line x1="272.60" y1="241.65" x2="274.20" y2="241.65" stroke="#231f20" stroke-width="0.7"/>
<line x1="271.60" y1="227.40" x2="274.20" y2="227.40" stroke="#231f20" stroke-width="0.7"/>
<line x1="272.60" y1="213.15" x2="274.20" y2="213.15" stroke="#231f20" stroke-width="0.7"/>
<line x1="272.60" y1="184.65" x2="274.20" y2="184.65" stroke="#231f20" stroke-width="0.7"/>
<line x1="271.60" y1="170.40" x2="274.20" y2="170.40" stroke="#231f20" stroke-width="0.7"/>
<text x="267.70" y="172.97" font-size="7.15" fill="#3a3a3a" stroke="#3a3a3a" stroke-width="0.18" text-anchor="end" textLength="3.58" lengthAdjust="spacingAndGlyphs">1</text>
<text x="267.70" y="229.97" font-size="7.15" fill="#3a3a3a" stroke="#3a3a3a" stroke-width="0.18" text-anchor="end" textLength="7.34" lengthAdjust="spacingAndGlyphs">−1</text>
<text x="267.70" y="258.47" font-size="7.15" fill="#3a3a3a" stroke="#3a3a3a" stroke-width="0.18" text-anchor="end" textLength="7.34" lengthAdjust="spacingAndGlyphs">−2</text>
<text x="291.20" y="179.37" font-size="8.8" fill="#231f20" stroke="#231f20" stroke-width="0.18" textLength="41.80" lengthAdjust="spacingAndGlyphs">R<tspan font-size="5.6" dy="-2.9">2</tspan><tspan dy="2.9"> = 0.4728</tspan></text>
<text x="274.20" y="272.19" font-size="8.58" fill="#231f20" stroke="#231f20" stroke-width="0.18" font-style="italic" text-anchor="middle" textLength="31.00" lengthAdjust="spacingAndGlyphs">MECOM</text>
<text transform="translate(198.69,199.60) rotate(-90)" font-size="8.58" fill="#231f20" stroke="#231f20" stroke-width="0.18" font-style="italic" text-anchor="middle" textLength="24.50" lengthAdjust="spacingAndGlyphs">CEBPE</text>
<rect x="388.70" y="226.80" width="1.40" height="1.40" fill="#a7a9ac"/>
<rect x="393.00" y="230.30" width="1.40" height="1.40" fill="#a7a9ac"/>
<rect x="394.80" y="214.30" width="1.40" height="1.40" fill="#a7a9ac"/>
<rect x="396.50" y="215.50" width="1.40" height="1.40" fill="#a7a9ac"/>
<rect x="401.70" y="213.80" width="1.40" height="1.40" fill="#a7a9ac"/>
<rect x="399.10" y="224.70" width="1.40" height="1.40" fill="#a7a9ac"/>
<rect x="396.50" y="228.50" width="1.40" height="1.40" fill="#a7a9ac"/>
<rect x="404.30" y="224.70" width="1.40" height="1.40" fill="#a7a9ac"/>
<rect x="406.90" y="218.10" width="1.40" height="1.40" fill="#a7a9ac"/>
<rect x="405.20" y="227.70" width="1.40" height="1.40" fill="#a7a9ac"/>
<rect x="411.20" y="219.90" width="1.40" height="1.40" fill="#a7a9ac"/>
<rect x="416.40" y="225.90" width="1.40" height="1.40" fill="#a7a9ac"/>
<rect x="419.00" y="235.50" width="1.40" height="1.40" fill="#a7a9ac"/>
<rect x="421.60" y="232.00" width="1.40" height="1.40" fill="#a7a9ac"/>
<rect x="419.90" y="215.50" width="1.40" height="1.40" fill="#a7a9ac"/>
<rect x="419.00" y="200.80" width="1.40" height="1.40" fill="#a7a9ac"/>
<rect x="424.20" y="201.70" width="1.40" height="1.40" fill="#a7a9ac"/>
<rect x="428.50" y="200.80" width="1.40" height="1.40" fill="#a7a9ac"/>
<rect x="430.30" y="191.30" width="1.40" height="1.40" fill="#a7a9ac"/>
<rect x="432.00" y="188.70" width="1.40" height="1.40" fill="#a7a9ac"/>
<rect x="433.70" y="211.20" width="1.40" height="1.40" fill="#a7a9ac"/>
<rect x="435.50" y="214.70" width="1.40" height="1.40" fill="#a7a9ac"/>
<rect x="438.00" y="213.00" width="1.40" height="1.40" fill="#a7a9ac"/>
<rect x="433.70" y="207.80" width="1.40" height="1.40" fill="#a7a9ac"/>
<rect x="436.30" y="203.40" width="1.40" height="1.40" fill="#a7a9ac"/>
<rect x="438.00" y="200.80" width="1.40" height="1.40" fill="#a7a9ac"/>
<rect x="392.20" y="240.60" width="1.40" height="1.40" fill="#a7a9ac"/>
<rect x="391.30" y="252.80" width="1.40" height="1.40" fill="#a7a9ac"/>
<rect x="393.90" y="254.50" width="1.40" height="1.40" fill="#a7a9ac"/>
<rect x="397.40" y="253.60" width="1.40" height="1.40" fill="#a7a9ac"/>
<rect x="400.80" y="249.30" width="1.40" height="1.40" fill="#a7a9ac"/>
<rect x="403.40" y="246.70" width="1.40" height="1.40" fill="#a7a9ac"/>
<rect x="405.20" y="248.40" width="1.40" height="1.40" fill="#a7a9ac"/>
<rect x="406.90" y="247.60" width="1.40" height="1.40" fill="#a7a9ac"/>
<rect x="408.60" y="246.70" width="1.40" height="1.40" fill="#a7a9ac"/>
<rect x="411.20" y="243.20" width="1.40" height="1.40" fill="#a7a9ac"/>
<rect x="400.80" y="241.50" width="1.40" height="1.40" fill="#a7a9ac"/>
<rect x="404.30" y="242.40" width="1.40" height="1.40" fill="#a7a9ac"/>
<rect x="406.00" y="235.50" width="1.40" height="1.40" fill="#a7a9ac"/>
<rect x="387.90" y="254.50" width="1.40" height="1.40" fill="#a7a9ac"/>
<rect x="390.50" y="253.60" width="1.40" height="1.40" fill="#a7a9ac"/>
<rect x="398.30" y="251.00" width="1.40" height="1.40" fill="#a7a9ac"/>
<rect x="426.30" y="195.30" width="1.40" height="1.40" fill="#a7a9ac"/>
<rect x="429.30" y="197.30" width="1.40" height="1.40" fill="#a7a9ac"/>
<rect x="432.30" y="194.30" width="1.40" height="1.40" fill="#a7a9ac"/>
<rect x="434.30" y="192.30" width="1.40" height="1.40" fill="#a7a9ac"/>
<rect x="435.30" y="196.30" width="1.40" height="1.40" fill="#a7a9ac"/>
<rect x="438.30" y="194.30" width="1.40" height="1.40" fill="#a7a9ac"/>
<rect x="439.30" y="191.30" width="1.40" height="1.40" fill="#a7a9ac"/>
<rect x="440.30" y="198.30" width="1.40" height="1.40" fill="#a7a9ac"/>
<rect x="441.30" y="187.30" width="1.40" height="1.40" fill="#a7a9ac"/>
<rect x="442.30" y="193.30" width="1.40" height="1.40" fill="#a7a9ac"/>
<rect x="431.30" y="202.30" width="1.40" height="1.40" fill="#a7a9ac"/>
<rect x="427.30" y="205.30" width="1.40" height="1.40" fill="#a7a9ac"/>
<rect x="425.30" y="209.30" width="1.40" height="1.40" fill="#a7a9ac"/>
<rect x="430.30" y="208.30" width="1.40" height="1.40" fill="#a7a9ac"/>
<rect x="435.30" y="209.30" width="1.40" height="1.40" fill="#a7a9ac"/>
<rect x="439.30" y="204.30" width="1.40" height="1.40" fill="#a7a9ac"/>
<rect x="443.30" y="189.30" width="1.40" height="1.40" fill="#a7a9ac"/>
<rect x="444.30" y="196.30" width="1.40" height="1.40" fill="#a7a9ac"/>
<rect x="411.30" y="229.30" width="1.40" height="1.40" fill="#a7a9ac"/>
<rect x="414.30" y="235.30" width="1.40" height="1.40" fill="#a7a9ac"/>
<rect x="417.30" y="239.30" width="1.40" height="1.40" fill="#a7a9ac"/>
<rect x="409.30" y="237.30" width="1.40" height="1.40" fill="#a7a9ac"/>
<rect x="395.30" y="245.30" width="1.40" height="1.40" fill="#a7a9ac"/>
<rect x="399.30" y="235.30" width="1.40" height="1.40" fill="#a7a9ac"/>
<rect x="403.30" y="231.30" width="1.40" height="1.40" fill="#a7a9ac"/>
<rect x="413.30" y="221.30" width="1.40" height="1.40" fill="#a7a9ac"/>
<rect x="423.30" y="217.30" width="1.40" height="1.40" fill="#a7a9ac"/>
<rect x="427.30" y="213.30" width="1.40" height="1.40" fill="#a7a9ac"/>
<rect x="422.30" y="225.30" width="1.40" height="1.40" fill="#a7a9ac"/>
<rect x="408.30" y="225.30" width="1.40" height="1.40" fill="#a7a9ac"/>
<rect x="417.05" y="226.01" width="1.40" height="1.40" fill="#a7a9ac"/>
<rect x="401.66" y="245.21" width="1.40" height="1.40" fill="#a7a9ac"/>
<rect x="423.62" y="210.29" width="1.40" height="1.40" fill="#a7a9ac"/>
<rect x="424.20" y="213.59" width="1.40" height="1.40" fill="#a7a9ac"/>
<rect x="392.20" y="243.08" width="1.40" height="1.40" fill="#a7a9ac"/>
<rect x="399.09" y="239.73" width="1.40" height="1.40" fill="#a7a9ac"/>
<rect x="419.98" y="217.96" width="1.40" height="1.40" fill="#a7a9ac"/>
<rect x="405.92" y="227.48" width="1.40" height="1.40" fill="#a7a9ac"/>
<rect x="433.80" y="211.20" width="1.40" height="1.40" fill="#a7a9ac"/>
<rect x="415.88" y="217.04" width="1.40" height="1.40" fill="#a7a9ac"/>
<rect x="451.26" y="197.70" width="1.40" height="1.40" fill="#a7a9ac"/>
<rect x="414.01" y="227.05" width="1.40" height="1.40" fill="#a7a9ac"/>
<rect x="405.07" y="237.17" width="1.40" height="1.40" fill="#a7a9ac"/>
<rect x="439.41" y="199.84" width="1.40" height="1.40" fill="#a7a9ac"/>
<rect x="400.03" y="227.46" width="1.40" height="1.40" fill="#a7a9ac"/>
<rect x="413.49" y="217.38" width="1.40" height="1.40" fill="#a7a9ac"/>
<rect x="426.40" y="211.75" width="1.40" height="1.40" fill="#a7a9ac"/>
<rect x="407.20" y="230.85" width="1.40" height="1.40" fill="#a7a9ac"/>
<rect x="428.07" y="201.07" width="1.40" height="1.40" fill="#a7a9ac"/>
<rect x="428.42" y="210.06" width="1.40" height="1.40" fill="#a7a9ac"/>
<rect x="418.29" y="213.46" width="1.40" height="1.40" fill="#a7a9ac"/>
<rect x="438.82" y="209.43" width="1.40" height="1.40" fill="#a7a9ac"/>
<rect x="404.65" y="223.73" width="1.40" height="1.40" fill="#a7a9ac"/>
<rect x="437.34" y="192.97" width="1.40" height="1.40" fill="#a7a9ac"/>
<rect x="430.71" y="199.19" width="1.40" height="1.40" fill="#a7a9ac"/>
<rect x="411.53" y="247.03" width="1.40" height="1.40" fill="#a7a9ac"/>
<rect x="418.80" y="217.52" width="1.40" height="1.40" fill="#a7a9ac"/>
<rect x="419.96" y="211.45" width="1.40" height="1.40" fill="#a7a9ac"/>
<rect x="390.42" y="241.06" width="1.40" height="1.40" fill="#a7a9ac"/>
<rect x="420.35" y="203.72" width="1.40" height="1.40" fill="#a7a9ac"/>
<rect x="437.15" y="192.77" width="1.40" height="1.40" fill="#a7a9ac"/>
<rect x="432.99" y="213.50" width="1.40" height="1.40" fill="#a7a9ac"/>
<rect x="419.22" y="202.02" width="1.40" height="1.40" fill="#a7a9ac"/>
<rect x="444.47" y="193.92" width="1.40" height="1.40" fill="#a7a9ac"/>
<rect x="420.80" y="213.70" width="1.40" height="1.40" fill="#a7a9ac"/>
<rect x="430.92" y="201.85" width="1.40" height="1.40" fill="#a7a9ac"/>
<rect x="437.16" y="212.53" width="1.40" height="1.40" fill="#a7a9ac"/>
<rect x="411.10" y="224.93" width="1.40" height="1.40" fill="#a7a9ac"/>
<rect x="416.59" y="218.84" width="1.40" height="1.40" fill="#a7a9ac"/>
<rect x="420.16" y="214.35" width="1.40" height="1.40" fill="#a7a9ac"/>
<rect x="405.21" y="233.99" width="1.40" height="1.40" fill="#a7a9ac"/>
<rect x="435.98" y="200.74" width="1.40" height="1.40" fill="#a7a9ac"/>
<rect x="401.51" y="236.01" width="1.40" height="1.40" fill="#a7a9ac"/>
<rect x="443.39" y="198.92" width="1.40" height="1.40" fill="#a7a9ac"/>
<rect x="392.81" y="235.57" width="1.40" height="1.40" fill="#a7a9ac"/>
<rect x="443.20" y="206.06" width="1.40" height="1.40" fill="#a7a9ac"/>
<rect x="442.85" y="190.37" width="1.40" height="1.40" fill="#a7a9ac"/>
<rect x="434.78" y="192.70" width="1.40" height="1.40" fill="#a7a9ac"/>
<rect x="443.22" y="210.07" width="1.40" height="1.40" fill="#a7a9ac"/>
<rect x="430.02" y="187.41" width="1.40" height="1.40" fill="#a7a9ac"/>
<rect x="431.48" y="189.07" width="1.40" height="1.40" fill="#a7a9ac"/>
<rect x="436.03" y="199.38" width="1.40" height="1.40" fill="#a7a9ac"/>
<rect x="432.03" y="182.42" width="1.40" height="1.40" fill="#a7a9ac"/>
<rect x="434.84" y="193.01" width="1.40" height="1.40" fill="#a7a9ac"/>
<rect x="437.49" y="209.94" width="1.40" height="1.40" fill="#a7a9ac"/>
<rect x="439.73" y="197.25" width="1.40" height="1.40" fill="#a7a9ac"/>
<rect x="438.42" y="201.91" width="1.40" height="1.40" fill="#a7a9ac"/>
<rect x="428.27" y="208.39" width="1.40" height="1.40" fill="#a7a9ac"/>
<rect x="441.34" y="207.66" width="1.40" height="1.40" fill="#a7a9ac"/>
<rect x="441.66" y="193.68" width="1.40" height="1.40" fill="#a7a9ac"/>
<rect x="434.48" y="185.30" width="1.40" height="1.40" fill="#a7a9ac"/>
<rect x="438.72" y="184.11" width="1.40" height="1.40" fill="#a7a9ac"/>
<rect x="428.51" y="188.35" width="1.40" height="1.40" fill="#a7a9ac"/>
<path d="M388.6,247.4 Q418,216.0 446.0,186.3" fill="none" stroke="#f4a7b4" stroke-width="0.9"/>
<path d="M388.6,255.2 Q418,223.5 446.0,193.7" fill="none" stroke="#f4a7b4" stroke-width="0.9"/>
<line x1="388.60" y1="251.20" x2="445.30" y2="190.30" stroke="#1d4f8b" stroke-width="1.6"/>
<line x1="368.70" y1="198.40" x2="506.10" y2="198.40" stroke="#111111" stroke-width="1.25"/>
<line x1="437.40" y1="166.10" x2="437.40" y2="260.00" stroke="#111111" stroke-width="1.25"/>
<line x1="373.00" y1="198.40" x2="373.00" y2="200.80" stroke="#231f20" stroke-width="0.7"/>
<line x1="381.05" y1="198.40" x2="381.05" y2="200.00" stroke="#231f20" stroke-width="0.7"/>
<line x1="389.10" y1="198.40" x2="389.10" y2="200.80" stroke="#231f20" stroke-width="0.7"/>
<line x1="397.15" y1="198.40" x2="397.15" y2="200.00" stroke="#231f20" stroke-width="0.7"/>
<line x1="405.20" y1="198.40" x2="405.20" y2="200.80" stroke="#231f20" stroke-width="0.7"/>
<line x1="413.25" y1="198.40" x2="413.25" y2="200.00" stroke="#231f20" stroke-width="0.7"/>
<line x1="421.30" y1="198.40" x2="421.30" y2="200.80" stroke="#231f20" stroke-width="0.7"/>
<line x1="429.35" y1="198.40" x2="429.35" y2="200.00" stroke="#231f20" stroke-width="0.7"/>
<line x1="445.45" y1="198.40" x2="445.45" y2="200.00" stroke="#231f20" stroke-width="0.7"/>
<line x1="453.50" y1="198.40" x2="453.50" y2="200.80" stroke="#231f20" stroke-width="0.7"/>
<line x1="461.55" y1="198.40" x2="461.55" y2="200.00" stroke="#231f20" stroke-width="0.7"/>
<line x1="469.60" y1="198.40" x2="469.60" y2="200.80" stroke="#231f20" stroke-width="0.7"/>
<line x1="477.65" y1="198.40" x2="477.65" y2="200.00" stroke="#231f20" stroke-width="0.7"/>
<line x1="485.70" y1="198.40" x2="485.70" y2="200.80" stroke="#231f20" stroke-width="0.7"/>
<line x1="493.75" y1="198.40" x2="493.75" y2="200.00" stroke="#231f20" stroke-width="0.7"/>
<line x1="501.80" y1="198.40" x2="501.80" y2="200.80" stroke="#231f20" stroke-width="0.7"/>
<text x="373.00" y="208.79" font-size="6.93" fill="#3a3a3a" stroke="#3a3a3a" stroke-width="0.18" text-anchor="middle" textLength="12.04" lengthAdjust="spacingAndGlyphs">−2.0</text>
<text x="389.10" y="208.79" font-size="6.93" fill="#3a3a3a" stroke="#3a3a3a" stroke-width="0.18" text-anchor="middle" textLength="12.04" lengthAdjust="spacingAndGlyphs">−1.5</text>
<text x="405.20" y="208.79" font-size="6.93" fill="#3a3a3a" stroke="#3a3a3a" stroke-width="0.18" text-anchor="middle" textLength="12.04" lengthAdjust="spacingAndGlyphs">−1.0</text>
<text x="421.30" y="208.79" font-size="6.93" fill="#3a3a3a" stroke="#3a3a3a" stroke-width="0.18" text-anchor="middle" textLength="12.04" lengthAdjust="spacingAndGlyphs">−0.5</text>
<text x="453.50" y="208.79" font-size="6.93" fill="#3a3a3a" stroke="#3a3a3a" stroke-width="0.18" text-anchor="middle" textLength="8.48" lengthAdjust="spacingAndGlyphs">0.5</text>
<text x="469.60" y="208.79" font-size="6.93" fill="#3a3a3a" stroke="#3a3a3a" stroke-width="0.18" text-anchor="middle" textLength="8.48" lengthAdjust="spacingAndGlyphs">1.0</text>
<text x="485.70" y="208.79" font-size="6.93" fill="#3a3a3a" stroke="#3a3a3a" stroke-width="0.18" text-anchor="middle" textLength="8.48" lengthAdjust="spacingAndGlyphs">1.5</text>
<text x="501.80" y="208.79" font-size="6.93" fill="#3a3a3a" stroke="#3a3a3a" stroke-width="0.18" text-anchor="middle" textLength="8.48" lengthAdjust="spacingAndGlyphs">2.0</text>
<line x1="434.80" y1="255.60" x2="437.40" y2="255.60" stroke="#231f20" stroke-width="0.7"/>
<line x1="435.80" y1="241.30" x2="437.40" y2="241.30" stroke="#231f20" stroke-width="0.7"/>
<line x1="434.80" y1="227.00" x2="437.40" y2="227.00" stroke="#231f20" stroke-width="0.7"/>
<line x1="435.80" y1="212.70" x2="437.40" y2="212.70" stroke="#231f20" stroke-width="0.7"/>
<line x1="435.80" y1="184.10" x2="437.40" y2="184.10" stroke="#231f20" stroke-width="0.7"/>
<line x1="434.80" y1="169.80" x2="437.40" y2="169.80" stroke="#231f20" stroke-width="0.7"/>
<text x="430.90" y="172.37" font-size="7.15" fill="#3a3a3a" stroke="#3a3a3a" stroke-width="0.18" text-anchor="end" textLength="3.58" lengthAdjust="spacingAndGlyphs">1</text>
<text x="430.90" y="229.57" font-size="7.15" fill="#3a3a3a" stroke="#3a3a3a" stroke-width="0.18" text-anchor="end" textLength="7.34" lengthAdjust="spacingAndGlyphs">−1</text>
<text x="430.90" y="258.17" font-size="7.15" fill="#3a3a3a" stroke="#3a3a3a" stroke-width="0.18" text-anchor="end" textLength="7.34" lengthAdjust="spacingAndGlyphs">−2</text>
<text x="454.20" y="179.37" font-size="8.8" fill="#231f20" stroke="#231f20" stroke-width="0.18" textLength="42.30" lengthAdjust="spacingAndGlyphs">R<tspan font-size="5.6" dy="-2.9">2</tspan><tspan dy="2.9"> = 0.7304</tspan></text>
<text x="437.40" y="272.19" font-size="8.58" fill="#231f20" stroke="#231f20" stroke-width="0.18" font-style="italic" text-anchor="middle" textLength="25.50" lengthAdjust="spacingAndGlyphs">CEBPE</text>
<text transform="translate(362.79,199.60) rotate(-90)" font-size="8.58" fill="#231f20" stroke="#231f20" stroke-width="0.18" font-style="italic" text-anchor="middle" textLength="22.80" lengthAdjust="spacingAndGlyphs">MS4A3</text>
<text x="8.9" y="303.0" font-size="11.7" font-weight="bold" fill="#000">E</text>
<line x1="60.60" y1="301.90" x2="251.80" y2="301.90" stroke="#939598" stroke-width="1.2"/>
<text x="141.90" y="299.67" font-size="8.8" fill="#231f20" stroke="#231f20" stroke-width="0.18" textLength="34.60" lengthAdjust="spacingAndGlyphs">LAMA-84</text>
<line x1="31.90" y1="307.40" x2="31.90" y2="397.90" stroke="#111111" stroke-width="1.15"/>
<line x1="28.90" y1="311.50" x2="31.90" y2="311.50" stroke="#111111" stroke-width="0.9"/>
<text x="27.20" y="314.43" font-size="8.14" fill="#231f20" stroke="#231f20" stroke-width="0.18" text-anchor="end" textLength="4.07" lengthAdjust="spacingAndGlyphs">8</text>
<line x1="28.90" y1="333.00" x2="31.90" y2="333.00" stroke="#111111" stroke-width="0.9"/>
<text x="27.20" y="335.93" font-size="8.14" fill="#231f20" stroke="#231f20" stroke-width="0.18" text-anchor="end" textLength="4.07" lengthAdjust="spacingAndGlyphs">6</text>
<line x1="28.90" y1="354.50" x2="31.90" y2="354.50" stroke="#111111" stroke-width="0.9"/>
<text x="27.20" y="357.43" font-size="8.14" fill="#231f20" stroke="#231f20" stroke-width="0.18" text-anchor="end" textLength="4.07" lengthAdjust="spacingAndGlyphs">4</text>
<line x1="28.90" y1="376.00" x2="31.90" y2="376.00" stroke="#111111" stroke-width="0.9"/>
<text x="27.20" y="378.93" font-size="8.14" fill="#231f20" stroke="#231f20" stroke-width="0.18" text-anchor="end" textLength="4.07" lengthAdjust="spacingAndGlyphs">2</text>
<line x1="28.90" y1="397.50" x2="31.90" y2="397.50" stroke="#111111" stroke-width="0.9"/>
<text x="27.20" y="400.43" font-size="8.14" fill="#231f20" stroke="#231f20" stroke-width="0.18" text-anchor="end" textLength="4.07" lengthAdjust="spacingAndGlyphs">0</text>
<line x1="31.90" y1="397.50" x2="89.40" y2="397.50" stroke="#111111" stroke-width="1.15"/>
<line x1="60.60" y1="397.50" x2="60.60" y2="400.30" stroke="#111111" stroke-width="0.9"/>
<rect x="40.30" y="386.50" width="16.10" height="11.00" fill="#e4899a"/>
<rect x="65.00" y="328.30" width="15.80" height="69.20" fill="#85a5c2"/>
<text x="60.60" y="409.43" font-size="8.14" fill="#231f20" stroke="#231f20" stroke-width="0.18" font-style="italic" text-anchor="middle">MECOM</text>
<text transform="translate(16.57,352.65) rotate(-90)" font-size="8.8" fill="#231f20" stroke="#231f20" stroke-width="0.18" text-anchor="middle" textLength="49.30" lengthAdjust="spacingAndGlyphs">Relative mRNA</text>
<line x1="48.30" y1="383.30" x2="48.30" y2="389.60" stroke="#c8102e" stroke-width="0.9"/>
<line x1="46.70" y1="383.30" x2="49.90" y2="383.30" stroke="#c8102e" stroke-width="0.9"/>
<line x1="46.70" y1="389.60" x2="49.90" y2="389.60" stroke="#c8102e" stroke-width="0.9"/>
<circle cx="48.30" cy="382.60" r="1.35" fill="#c8102e"/>
<circle cx="48.30" cy="386.40" r="1.35" fill="#c8102e"/>
<circle cx="48.30" cy="389.60" r="1.35" fill="#c8102e"/>
<line x1="72.90" y1="324.40" x2="72.90" y2="332.10" stroke="#1d4f8b" stroke-width="0.9"/>
<line x1="70.50" y1="324.40" x2="75.30" y2="324.40" stroke="#1d4f8b" stroke-width="0.9"/>
<line x1="70.50" y1="332.10" x2="75.30" y2="332.10" stroke="#1d4f8b" stroke-width="0.9"/>
<rect x="68.55" y="321.65" width="2.50" height="2.50" fill="#1d4f8b"/>
<rect x="74.35" y="322.25" width="2.50" height="2.50" fill="#1d4f8b"/>
<rect x="71.45" y="335.25" width="2.50" height="2.50" fill="#1d4f8b"/>
<line x1="122.70" y1="308.00" x2="122.70" y2="397.90" stroke="#111111" stroke-width="1.15"/>
<line x1="119.70" y1="311.00" x2="122.70" y2="311.00" stroke="#111111" stroke-width="0.9"/>
<text x="101.00" y="313.93" font-size="8.14" fill="#231f20" stroke="#231f20" stroke-width="0.18" textLength="15.30" lengthAdjust="spacingAndGlyphs">1.25</text>
<line x1="119.70" y1="328.80" x2="122.70" y2="328.80" stroke="#111111" stroke-width="0.9"/>
<text x="101.00" y="331.73" font-size="8.14" fill="#231f20" stroke="#231f20" stroke-width="0.18" textLength="15.30" lengthAdjust="spacingAndGlyphs">1.00</text>
<line x1="119.70" y1="346.20" x2="122.70" y2="346.20" stroke="#111111" stroke-width="0.9"/>
<text x="101.00" y="349.13" font-size="8.14" fill="#231f20" stroke="#231f20" stroke-width="0.18" textLength="15.30" lengthAdjust="spacingAndGlyphs">0.75</text>
<line x1="119.70" y1="363.50" x2="122.70" y2="363.50" stroke="#111111" stroke-width="0.9"/>
<text x="101.00" y="366.43" font-size="8.14" fill="#231f20" stroke="#231f20" stroke-width="0.18" textLength="15.30" lengthAdjust="spacingAndGlyphs">0.50</text>
<line x1="119.70" y1="380.60" x2="122.70" y2="380.60" stroke="#111111" stroke-width="0.9"/>
<text x="101.00" y="383.53" font-size="8.14" fill="#231f20" stroke="#231f20" stroke-width="0.18" textLength="15.30" lengthAdjust="spacingAndGlyphs">0.25</text>
<line x1="119.70" y1="397.50" x2="122.70" y2="397.50" stroke="#111111" stroke-width="0.9"/>
<text x="101.00" y="400.43" font-size="8.14" fill="#231f20" stroke="#231f20" stroke-width="0.18" textLength="15.30" lengthAdjust="spacingAndGlyphs">0.00</text>
<line x1="122.70" y1="397.50" x2="179.80" y2="397.50" stroke="#111111" stroke-width="1.15"/>
<line x1="150.60" y1="397.50" x2="150.60" y2="400.30" stroke="#111111" stroke-width="0.9"/>
<rect x="130.80" y="328.80" width="16.30" height="68.70" fill="#e4899a"/>
<rect x="155.40" y="356.50" width="16.30" height="41.00" fill="#85a5c2"/>
<text x="150.60" y="409.43" font-size="8.14" fill="#231f20" stroke="#231f20" stroke-width="0.18" font-style="italic" text-anchor="middle">CEBPE</text>
<text transform="translate(94.47,352.65) rotate(-90)" font-size="8.8" fill="#231f20" stroke="#231f20" stroke-width="0.18" text-anchor="middle" textLength="49.30" lengthAdjust="spacingAndGlyphs">Relative mRNA</text>
<line x1="139.00" y1="324.40" x2="139.00" y2="332.50" stroke="#c8102e" stroke-width="0.9"/>
<line x1="136.60" y1="324.40" x2="141.40" y2="324.40" stroke="#c8102e" stroke-width="0.9"/>
<line x1="136.60" y1="332.50" x2="141.40" y2="332.50" stroke="#c8102e" stroke-width="0.9"/>
<circle cx="139.00" cy="320.60" r="1.35" fill="#c8102e"/>
<circle cx="139.00" cy="330.80" r="1.35" fill="#c8102e"/>
<circle cx="139.00" cy="336.00" r="1.35" fill="#c8102e"/>
<line x1="163.50" y1="354.00" x2="163.50" y2="362.00" stroke="#1d4f8b" stroke-width="0.9"/>
<line x1="161.10" y1="354.00" x2="165.90" y2="354.00" stroke="#1d4f8b" stroke-width="0.9"/>
<line x1="161.10" y1="362.00" x2="165.90" y2="362.00" stroke="#1d4f8b" stroke-width="0.9"/>
<rect x="161.85" y="348.15" width="2.50" height="2.50" fill="#1d4f8b"/>
<rect x="158.95" y="357.75" width="2.50" height="2.50" fill="#1d4f8b"/>
<rect x="164.15" y="357.45" width="2.50" height="2.50" fill="#1d4f8b"/>
<line x1="211.20" y1="308.00" x2="211.20" y2="397.90" stroke="#111111" stroke-width="1.15"/>
<line x1="208.20" y1="311.00" x2="211.20" y2="311.00" stroke="#111111" stroke-width="0.9"/>
<text x="191.00" y="313.93" font-size="8.14" fill="#231f20" stroke="#231f20" stroke-width="0.18" textLength="15.30" lengthAdjust="spacingAndGlyphs">1.25</text>
<line x1="208.20" y1="328.80" x2="211.20" y2="328.80" stroke="#111111" stroke-width="0.9"/>
<text x="191.00" y="331.73" font-size="8.14" fill="#231f20" stroke="#231f20" stroke-width="0.18" textLength="15.30" lengthAdjust="spacingAndGlyphs">1.00</text>
<line x1="208.20" y1="346.20" x2="211.20" y2="346.20" stroke="#111111" stroke-width="0.9"/>
<text x="191.00" y="349.13" font-size="8.14" fill="#231f20" stroke="#231f20" stroke-width="0.18" textLength="15.30" lengthAdjust="spacingAndGlyphs">0.75</text>
<line x1="208.20" y1="363.50" x2="211.20" y2="363.50" stroke="#111111" stroke-width="0.9"/>
<text x="191.00" y="366.43" font-size="8.14" fill="#231f20" stroke="#231f20" stroke-width="0.18" textLength="15.30" lengthAdjust="spacingAndGlyphs">0.50</text>
<line x1="208.20" y1="380.60" x2="211.20" y2="380.60" stroke="#111111" stroke-width="0.9"/>
<text x="191.00" y="383.53" font-size="8.14" fill="#231f20" stroke="#231f20" stroke-width="0.18" textLength="15.30" lengthAdjust="spacingAndGlyphs">0.25</text>
<line x1="208.20" y1="397.50" x2="211.20" y2="397.50" stroke="#111111" stroke-width="0.9"/>
<text x="191.00" y="400.43" font-size="8.14" fill="#231f20" stroke="#231f20" stroke-width="0.18" textLength="15.30" lengthAdjust="spacingAndGlyphs">0.00</text>
<line x1="211.20" y1="397.50" x2="268.50" y2="397.50" stroke="#111111" stroke-width="1.15"/>
<line x1="240.20" y1="397.50" x2="240.20" y2="400.30" stroke="#111111" stroke-width="0.9"/>
<rect x="219.80" y="328.30" width="16.40" height="69.20" fill="#e4899a"/>
<rect x="244.20" y="362.70" width="16.80" height="34.80" fill="#85a5c2"/>
<text x="240.20" y="409.43" font-size="8.14" fill="#231f20" stroke="#231f20" stroke-width="0.18" font-style="italic" text-anchor="middle">MS4A3</text>
<text transform="translate(187.77,352.65) rotate(-90)" font-size="8.8" fill="#231f20" stroke="#231f20" stroke-width="0.18" text-anchor="middle" textLength="49.30" lengthAdjust="spacingAndGlyphs">Relative mRNA</text>
<line x1="228.00" y1="320.60" x2="228.00" y2="336.00" stroke="#c8102e" stroke-width="0.9"/>
<line x1="225.60" y1="320.60" x2="230.40" y2="320.60" stroke="#c8102e" stroke-width="0.9"/>
<line x1="225.60" y1="336.00" x2="230.40" y2="336.00" stroke="#c8102e" stroke-width="0.9"/>
<circle cx="228.00" cy="313.50" r="1.35" fill="#c8102e"/>
<circle cx="225.00" cy="335.60" r="1.35" fill="#c8102e"/>
<circle cx="230.60" cy="335.60" r="1.35" fill="#c8102e"/>
<line x1="252.60" y1="359.50" x2="252.60" y2="366.00" stroke="#1d4f8b" stroke-width="0.9"/>
<line x1="250.20" y1="359.50" x2="255.00" y2="359.50" stroke="#1d4f8b" stroke-width="0.9"/>
<line x1="250.20" y1="366.00" x2="255.00" y2="366.00" stroke="#1d4f8b" stroke-width="0.9"/>
<rect x="251.35" y="357.95" width="2.50" height="2.50" fill="#1d4f8b"/>
<rect x="251.35" y="360.95" width="2.50" height="2.50" fill="#1d4f8b"/>
<rect x="251.35" y="363.75" width="2.50" height="2.50" fill="#1d4f8b"/>
<rect x="241.40" y="305.20" width="7.80" height="8.10" fill="#e4899a" stroke="#d9788a" stroke-width="0.8"/>
<circle cx="245.30" cy="309.25" r="1.7" fill="#c8102e"/>
<rect x="241.40" y="317.30" width="7.80" height="7.70" fill="#85a5c2" stroke="#7295b8" stroke-width="0.8"/>
<rect x="243.80" y="319.70" width="3.00" height="3.00" fill="#1d4f8b"/>
<text x="252.30" y="312.01" font-size="8.36" fill="#231f20" stroke="#231f20" stroke-width="0.18" textLength="16.80" lengthAdjust="spacingAndGlyphs">Basal</text>
<text x="252.30" y="324.01" font-size="8.36" fill="#231f20" stroke="#231f20" stroke-width="0.18" textLength="41.70" lengthAdjust="spacingAndGlyphs"><tspan font-style="italic">MECOM</tspan> OE</text>
<text x="304.2" y="303.3" font-size="11.7" font-weight="bold" fill="#000">F</text>
<line x1="359.60" y1="302.00" x2="436.90" y2="302.00" stroke="#939598" stroke-width="1.2"/>
<text x="383.10" y="299.47" font-size="8.8" fill="#231f20" stroke="#231f20" stroke-width="0.18" textLength="34.60" lengthAdjust="spacingAndGlyphs">LAMA-84</text>
<line x1="330.80" y1="308.00" x2="330.80" y2="397.90" stroke="#111111" stroke-width="1.15"/>
<line x1="327.80" y1="311.90" x2="330.80" y2="311.90" stroke="#111111" stroke-width="0.9"/>
<text x="325.70" y="314.83" font-size="8.14" fill="#231f20" stroke="#231f20" stroke-width="0.18" text-anchor="end" textLength="8.15" lengthAdjust="spacingAndGlyphs">30</text>
<line x1="327.80" y1="340.80" x2="330.80" y2="340.80" stroke="#111111" stroke-width="0.9"/>
<text x="325.70" y="343.73" font-size="8.14" fill="#231f20" stroke="#231f20" stroke-width="0.18" text-anchor="end" textLength="8.15" lengthAdjust="spacingAndGlyphs">20</text>
<line x1="327.80" y1="369.00" x2="330.80" y2="369.00" stroke="#111111" stroke-width="0.9"/>
<text x="325.70" y="371.93" font-size="8.14" fill="#231f20" stroke="#231f20" stroke-width="0.18" text-anchor="end" textLength="8.15" lengthAdjust="spacingAndGlyphs">10</text>
<line x1="327.80" y1="397.50" x2="330.80" y2="397.50" stroke="#111111" stroke-width="0.9"/>
<text x="325.70" y="400.43" font-size="8.14" fill="#231f20" stroke="#231f20" stroke-width="0.18" text-anchor="end" textLength="4.07" lengthAdjust="spacingAndGlyphs">0</text>
<line x1="330.80" y1="397.50" x2="387.50" y2="397.50" stroke="#111111" stroke-width="1.15"/>
<line x1="359.20" y1="397.50" x2="359.20" y2="400.30" stroke="#111111" stroke-width="0.9"/>
<rect x="338.50" y="394.60" width="16.50" height="2.90" fill="#e4899a"/>
<rect x="363.50" y="323.80" width="15.90" height="73.70" fill="#85a5c2"/>
<text x="359.20" y="409.43" font-size="8.14" fill="#231f20" stroke="#231f20" stroke-width="0.18" font-style="italic" text-anchor="middle">CEBPE</text>
<text transform="translate(310.87,352.65) rotate(-90)" font-size="8.8" fill="#231f20" stroke="#231f20" stroke-width="0.18" text-anchor="middle" textLength="49.30" lengthAdjust="spacingAndGlyphs">Relative mRNA</text>
<circle cx="340.80" cy="395.00" r="1.35" fill="#c8102e"/>
<circle cx="346.70" cy="395.00" r="1.35" fill="#c8102e"/>
<circle cx="352.90" cy="395.00" r="1.35" fill="#c8102e"/>
<line x1="371.50" y1="319.20" x2="371.50" y2="328.30" stroke="#1d4f8b" stroke-width="0.9"/>
<line x1="369.10" y1="319.20" x2="373.90" y2="319.20" stroke="#1d4f8b" stroke-width="0.9"/>
<line x1="369.10" y1="328.30" x2="373.90" y2="328.30" stroke="#1d4f8b" stroke-width="0.9"/>
<rect x="366.45" y="316.45" width="2.50" height="2.50" fill="#1d4f8b"/>
<rect x="373.75" y="318.95" width="2.50" height="2.50" fill="#1d4f8b"/>
<rect x="370.45" y="330.85" width="2.50" height="2.50" fill="#1d4f8b"/>
<line x1="412.90" y1="308.00" x2="412.90" y2="397.90" stroke="#111111" stroke-width="1.15"/>
<line x1="409.90" y1="311.90" x2="412.90" y2="311.90" stroke="#111111" stroke-width="0.9"/>
<text x="406.80" y="314.83" font-size="8.14" fill="#231f20" stroke="#231f20" stroke-width="0.18" text-anchor="end" textLength="4.07" lengthAdjust="spacingAndGlyphs">4</text>
<line x1="409.90" y1="333.50" x2="412.90" y2="333.50" stroke="#111111" stroke-width="0.9"/>
<text x="406.80" y="336.43" font-size="8.14" fill="#231f20" stroke="#231f20" stroke-width="0.18" text-anchor="end" textLength="4.07" lengthAdjust="spacingAndGlyphs">3</text>
<line x1="409.90" y1="355.00" x2="412.90" y2="355.00" stroke="#111111" stroke-width="0.9"/>
<text x="406.80" y="357.93" font-size="8.14" fill="#231f20" stroke="#231f20" stroke-width="0.18" text-anchor="end" textLength="4.07" lengthAdjust="spacingAndGlyphs">2</text>
<line x1="409.90" y1="376.30" x2="412.90" y2="376.30" stroke="#111111" stroke-width="0.9"/>
<text x="406.80" y="379.23" font-size="8.14" fill="#231f20" stroke="#231f20" stroke-width="0.18" text-anchor="end" textLength="4.07" lengthAdjust="spacingAndGlyphs">1</text>
<line x1="409.90" y1="397.50" x2="412.90" y2="397.50" stroke="#111111" stroke-width="0.9"/>
<text x="406.80" y="400.43" font-size="8.14" fill="#231f20" stroke="#231f20" stroke-width="0.18" text-anchor="end" textLength="4.07" lengthAdjust="spacingAndGlyphs">0</text>
<line x1="412.90" y1="397.50" x2="469.60" y2="397.50" stroke="#111111" stroke-width="1.15"/>
<line x1="441.20" y1="397.50" x2="441.20" y2="400.30" stroke="#111111" stroke-width="0.9"/>
<rect x="421.00" y="376.30" width="15.90" height="21.20" fill="#e4899a"/>
<rect x="445.60" y="326.90" width="15.90" height="70.60" fill="#85a5c2"/>
<text x="441.20" y="409.43" font-size="8.14" fill="#231f20" stroke="#231f20" stroke-width="0.18" font-style="italic" text-anchor="middle">MS4A3</text>
<text transform="translate(396.87,352.65) rotate(-90)" font-size="8.8" fill="#231f20" stroke="#231f20" stroke-width="0.18" text-anchor="middle" textLength="49.30" lengthAdjust="spacingAndGlyphs">Relative mRNA</text>
<line x1="428.90" y1="374.50" x2="428.90" y2="378.20" stroke="#c8102e" stroke-width="0.9"/>
<line x1="427.10" y1="374.50" x2="430.70" y2="374.50" stroke="#c8102e" stroke-width="0.9"/>
<line x1="427.10" y1="378.20" x2="430.70" y2="378.20" stroke="#c8102e" stroke-width="0.9"/>
<circle cx="425.40" cy="373.50" r="1.35" fill="#c8102e"/>
<circle cx="432.10" cy="375.40" r="1.35" fill="#c8102e"/>
<circle cx="425.40" cy="379.20" r="1.35" fill="#c8102e"/>
<line x1="453.60" y1="319.60" x2="453.60" y2="334.00" stroke="#1d4f8b" stroke-width="0.9"/>
<line x1="451.20" y1="319.60" x2="456.00" y2="319.60" stroke="#1d4f8b" stroke-width="0.9"/>
<line x1="451.20" y1="334.00" x2="456.00" y2="334.00" stroke="#1d4f8b" stroke-width="0.9"/>
<rect x="452.45" y="318.35" width="2.50" height="2.50" fill="#1d4f8b"/>
<rect x="452.45" y="321.05" width="2.50" height="2.50" fill="#1d4f8b"/>
<rect x="452.45" y="337.25" width="2.50" height="2.50" fill="#1d4f8b"/>
<rect x="466.60" y="305.60" width="8.40" height="7.80" fill="#e4899a" stroke="#d9788a" stroke-width="0.8"/>
<circle cx="470.80" cy="309.50" r="1.7" fill="#c8102e"/>
<rect x="466.60" y="316.70" width="8.40" height="8.30" fill="#85a5c2" stroke="#7295b8" stroke-width="0.8"/>
<rect x="469.30" y="319.40" width="3.00" height="3.00" fill="#1d4f8b"/>
<text x="477.70" y="312.61" font-size="8.36" fill="#231f20" stroke="#231f20" stroke-width="0.18" textLength="16.40" lengthAdjust="spacingAndGlyphs">Basal</text>
<text x="477.70" y="324.01" font-size="8.36" fill="#231f20" stroke="#231f20" stroke-width="0.18" textLength="35.10" lengthAdjust="spacingAndGlyphs"><tspan font-style="italic">CEBPE</tspan> OE</text>
<text x="8.3" y="432.2" font-size="11.7" font-weight="bold" fill="#000">G</text>
<defs>
<linearGradient id="gt0" x1="0" x2="1" y1="0" y2="0"><stop offset="0" stop-color="#6e90c7"/><stop offset="0.08" stop-color="#a9bddd"/><stop offset="0.35" stop-color="#f4f6fa"/><stop offset="0.6" stop-color="#fbf4f4"/><stop offset="1" stop-color="#f1d9da"/></linearGradient>
<linearGradient id="gt1" x1="0" x2="1" y1="0" y2="0"><stop offset="0" stop-color="#b7c8e3"/><stop offset="0.3" stop-color="#e9eef6"/><stop offset="0.6" stop-color="#fdfafa"/><stop offset="1" stop-color="#f2d8d9"/></linearGradient>
<linearGradient id="gt2" x1="0" x2="1" y1="0" y2="0"><stop offset="0" stop-color="#4f78bd"/><stop offset="0.1" stop-color="#5f84c2"/><stop offset="0.12" stop-color="#d4dfef"/><stop offset="0.5" stop-color="#f7f3f4"/><stop offset="1" stop-color="#f0d4d6"/></linearGradient>
<linearGradient id="gt3" x1="0" x2="1" y1="0" y2="0"><stop offset="0" stop-color="#4c74ba"/><stop offset="0.05" stop-color="#6d8dc6"/><stop offset="0.08" stop-color="#eef2f8"/><stop offset="0.5" stop-color="#fdfcfc"/><stop offset="1" stop-color="#f3dcdd"/></linearGradient>
<linearGradient id="gt4" x1="0" x2="1" y1="0" y2="0"><stop offset="0" stop-color="#dae3f1"/><stop offset="0.4" stop-color="#f7f8fb"/><stop offset="0.8" stop-color="#fbf5f5"/><stop offset="1" stop-color="#f5e2e3"/></linearGradient>
<linearGradient id="gt5" x1="0" x2="1" y1="0" y2="0"><stop offset="0" stop-color="#c4d1e7"/><stop offset="0.7" stop-color="#dfe5f1"/><stop offset="0.85" stop-color="#f6eded"/><stop offset="1" stop-color="#efc9cb"/></linearGradient>
<linearGradient id="gt6" x1="0" x2="1" y1="0" y2="0"><stop offset="0" stop-color="#c8d4e8"/><stop offset="0.5" stop-color="#e8edf5"/><stop offset="1" stop-color="#f8f6f7"/></linearGradient>
<linearGradient id="gt7" x1="0" x2="1" y1="0" y2="0"><stop offset="0" stop-color="#f2f4f9"/><stop offset="0.6" stop-color="#fbf8f8"/><stop offset="1" stop-color="#f1d3d5"/></linearGradient>
<linearGradient id="gt8" x1="0" x2="1" y1="0" y2="0"><stop offset="0" stop-color="#5a80c0"/><stop offset="0.25" stop-color="#b9c9e4"/><stop offset="0.6" stop-color="#f3f5fa"/><stop offset="1" stop-color="#f7eeee"/></linearGradient>
<linearGradient id="gt10" x1="0" x2="1" y1="0" y2="0"><stop offset="0" stop-color="#f6eeee"/><stop offset="1" stop-color="#f1dadb"/></linearGradient>
<linearGradient id="gt11" x1="0" x2="1" y1="0" y2="0"><stop offset="0" stop-color="#f1f3f8"/><stop offset="1" stop-color="#f3e0e1"/></linearGradient>
<linearGradient id="gt12" x1="0" x2="1" y1="0" y2="0"><stop offset="0" stop-color="#f1d1d3"/><stop offset="1" stop-color="#eec6c8"/></linearGradient>
<linearGradient id="cbar" x1="0" x2="1" y1="0" y2="0"><stop offset="0" stop-color="#3a6fc2"/><stop offset="0.5" stop-color="#ffffff"/><stop offset="1" stop-color="#e0212b"/></linearGradient>
<linearGradient id="hbar" x1="0" x2="1" y1="0" y2="0"><stop offset="0" stop-color="#d7301f"/><stop offset="0.25" stop-color="#f88d52"/><stop offset="0.5" stop-color="#fdf3c0"/><stop offset="0.75" stop-color="#a4c2de"/><stop offset="1" stop-color="#3e6fb5"/></linearGradient>
</defs>
<rect x="51.00" y="433.00" width="88.60" height="10.00" fill="url(#gt0)"/>
<rect x="51.00" y="443.00" width="88.60" height="10.00" fill="#a73a8f"/>
<rect x="139.60" y="433.00" width="36.00" height="10.00" fill="url(#gt1)"/>
<rect x="139.60" y="443.00" width="36.00" height="10.00" fill="#a98bc2"/>
<rect x="175.60" y="433.00" width="29.00" height="10.00" fill="url(#gt2)"/>
<rect x="175.60" y="443.00" width="29.00" height="10.00" fill="#1765ae"/>
<rect x="204.60" y="433.00" width="27.70" height="10.00" fill="url(#gt3)"/>
<rect x="204.60" y="443.00" width="27.70" height="10.00" fill="#f3e60f"/>
<rect x="232.30" y="433.00" width="22.10" height="10.00" fill="url(#gt4)"/>
<rect x="232.30" y="443.00" width="22.10" height="10.00" fill="#e2609a"/>
<rect x="254.40" y="433.00" width="19.30" height="10.00" fill="url(#gt5)"/>
<rect x="254.40" y="443.00" width="19.30" height="10.00" fill="#b21f2b"/>
<rect x="273.70" y="433.00" width="16.00" height="10.00" fill="url(#gt6)"/>
<rect x="273.70" y="443.00" width="16.00" height="10.00" fill="#8cbe43"/>
<rect x="289.70" y="433.00" width="13.80" height="10.00" fill="url(#gt7)"/>
<rect x="289.70" y="443.00" width="13.80" height="10.00" fill="#13a04a"/>
<rect x="303.50" y="433.00" width="10.00" height="10.00" fill="url(#gt8)"/>
<rect x="303.50" y="443.00" width="10.00" height="10.00" fill="#c95c25"/>
<rect x="313.50" y="433.00" width="7.90" height="10.00" fill="#f6f4f6"/>
<rect x="318.90" y="433.00" width="1.70" height="10.00" fill="#e14c4f"/>
<rect x="313.50" y="443.00" width="7.90" height="10.00" fill="#7d7d7d"/>
<rect x="321.40" y="433.00" width="3.70" height="10.00" fill="url(#gt10)"/>
<rect x="321.40" y="443.00" width="3.70" height="10.00" fill="#5fb99c"/>
<rect x="325.10" y="433.00" width="3.30" height="10.00" fill="url(#gt11)"/>
<rect x="325.10" y="443.00" width="3.30" height="10.00" fill="#8a86c6"/>
<rect x="328.40" y="433.00" width="2.60" height="10.00" fill="url(#gt12)"/>
<rect x="328.40" y="443.00" width="2.60" height="10.00" fill="#4e2382"/>
<line x1="52.80" y1="433.0" x2="52.80" y2="453.0" stroke="#808080" stroke-width="0.35" stroke-opacity="0.6"/>
<line x1="54.60" y1="433.0" x2="54.60" y2="453.0" stroke="#808080" stroke-width="0.35" stroke-opacity="0.6"/>
<line x1="56.40" y1="433.0" x2="56.40" y2="453.0" stroke="#808080" stroke-width="0.35" stroke-opacity="0.6"/>
<line x1="58.20" y1="433.0" x2="58.20" y2="453.0" stroke="#808080" stroke-width="0.35" stroke-opacity="0.6"/>
<line x1="60.00" y1="433.0" x2="60.00" y2="453.0" stroke="#808080" stroke-width="0.35" stroke-opacity="0.6"/>
<line x1="61.80" y1="433.0" x2="61.80" y2="453.0" stroke="#808080" stroke-width="0.35" stroke-opacity="0.6"/>
<line x1="63.60" y1="433.0" x2="63.60" y2="453.0" stroke="#808080" stroke-width="0.35" stroke-opacity="0.6"/>
<line x1="65.40" y1="433.0" x2="65.40" y2="453.0" stroke="#808080" stroke-width="0.35" stroke-opacity="0.6"/>
<line x1="67.20" y1="433.0" x2="67.20" y2="453.0" stroke="#808080" stroke-width="0.35" stroke-opacity="0.6"/>
<line x1="69.00" y1="433.0" x2="69.00" y2="453.0" stroke="#808080" stroke-width="0.35" stroke-opacity="0.6"/>
<line x1="70.80" y1="433.0" x2="70.80" y2="453.0" stroke="#808080" stroke-width="0.35" stroke-opacity="0.6"/>
<line x1="72.60" y1="433.0" x2="72.60" y2="453.0" stroke="#808080" stroke-width="0.35" stroke-opacity="0.6"/>
<line x1="74.40" y1="433.0" x2="74.40" y2="453.0" stroke="#808080" stroke-width="0.35" stroke-opacity="0.6"/>
<line x1="76.20" y1="433.0" x2="76.20" y2="453.0" stroke="#808080" stroke-width="0.35" stroke-opacity="0.6"/>
<line x1="78.00" y1="433.0" x2="78.00" y2="453.0" stroke="#808080" stroke-width="0.35" stroke-opacity="0.6"/>
<line x1="79.80" y1="433.0" x2="79.80" y2="453.0" stroke="#808080" stroke-width="0.35" stroke-opacity="0.6"/>
<line x1="81.60" y1="433.0" x2="81.60" y2="453.0" stroke="#808080" stroke-width="0.35" stroke-opacity="0.6"/>
<line x1="83.40" y1="433.0" x2="83.40" y2="453.0" stroke="#808080" stroke-width="0.35" stroke-opacity="0.6"/>
<line x1="85.20" y1="433.0" x2="85.20" y2="453.0" stroke="#808080" stroke-width="0.35" stroke-opacity="0.6"/>
<line x1="87.00" y1="433.0" x2="87.00" y2="453.0" stroke="#808080" stroke-width="0.35" stroke-opacity="0.6"/>
<line x1="88.80" y1="433.0" x2="88.80" y2="453.0" stroke="#808080" stroke-width="0.35" stroke-opacity="0.6"/>
<line x1="90.60" y1="433.0" x2="90.60" y2="453.0" stroke="#808080" stroke-width="0.35" stroke-opacity="0.6"/>
<line x1="92.40" y1="433.0" x2="92.40" y2="453.0" stroke="#808080" stroke-width="0.35" stroke-opacity="0.6"/>
<line x1="94.20" y1="433.0" x2="94.20" y2="453.0" stroke="#808080" stroke-width="0.35" stroke-opacity="0.6"/>
<line x1="96.00" y1="433.0" x2="96.00" y2="453.0" stroke="#808080" stroke-width="0.35" stroke-opacity="0.6"/>
<line x1="97.80" y1="433.0" x2="97.80" y2="453.0" stroke="#808080" stroke-width="0.35" stroke-opacity="0.6"/>
<line x1="99.60" y1="433.0" x2="99.60" y2="453.0" stroke="#808080" stroke-width="0.35" stroke-opacity="0.6"/>
<line x1="101.40" y1="433.0" x2="101.40" y2="453.0" stroke="#808080" stroke-width="0.35" stroke-opacity="0.6"/>
<line x1="103.20" y1="433.0" x2="103.20" y2="453.0" stroke="#808080" stroke-width="0.35" stroke-opacity="0.6"/>
<line x1="105.00" y1="433.0" x2="105.00" y2="453.0" stroke="#808080" stroke-width="0.35" stroke-opacity="0.6"/>
<line x1="106.80" y1="433.0" x2="106.80" y2="453.0" stroke="#808080" stroke-width="0.35" stroke-opacity="0.6"/>
<line x1="108.60" y1="433.0" x2="108.60" y2="453.0" stroke="#808080" stroke-width="0.35" stroke-opacity="0.6"/>
<line x1="110.40" y1="433.0" x2="110.40" y2="453.0" stroke="#808080" stroke-width="0.35" stroke-opacity="0.6"/>
<line x1="112.20" y1="433.0" x2="112.20" y2="453.0" stroke="#808080" stroke-width="0.35" stroke-opacity="0.6"/>
<line x1="114.00" y1="433.0" x2="114.00" y2="453.0" stroke="#808080" stroke-width="0.35" stroke-opacity="0.6"/>
<line x1="115.80" y1="433.0" x2="115.80" y2="453.0" stroke="#808080" stroke-width="0.35" stroke-opacity="0.6"/>
<line x1="117.60" y1="433.0" x2="117.60" y2="453.0" stroke="#808080" stroke-width="0.35" stroke-opacity="0.6"/>
<line x1="119.40" y1="433.0" x2="119.40" y2="453.0" stroke="#808080" stroke-width="0.35" stroke-opacity="0.6"/>
<line x1="121.20" y1="433.0" x2="121.20" y2="453.0" stroke="#808080" stroke-width="0.35" stroke-opacity="0.6"/>
<line x1="123.00" y1="433.0" x2="123.00" y2="453.0" stroke="#808080" stroke-width="0.35" stroke-opacity="0.6"/>
<line x1="124.80" y1="433.0" x2="124.80" y2="453.0" stroke="#808080" stroke-width="0.35" stroke-opacity="0.6"/>
<line x1="126.60" y1="433.0" x2="126.60" y2="453.0" stroke="#808080" stroke-width="0.35" stroke-opacity="0.6"/>
<line x1="128.40" y1="433.0" x2="128.40" y2="453.0" stroke="#808080" stroke-width="0.35" stroke-opacity="0.6"/>
<line x1="130.20" y1="433.0" x2="130.20" y2="453.0" stroke="#808080" stroke-width="0.35" stroke-opacity="0.6"/>
<line x1="132.00" y1="433.0" x2="132.00" y2="453.0" stroke="#808080" stroke-width="0.35" stroke-opacity="0.6"/>
<line x1="133.80" y1="433.0" x2="133.80" y2="453.0" stroke="#808080" stroke-width="0.35" stroke-opacity="0.6"/>
<line x1="135.60" y1="433.0" x2="135.60" y2="453.0" stroke="#808080" stroke-width="0.35" stroke-opacity="0.6"/>
<line x1="137.40" y1="433.0" x2="137.40" y2="453.0" stroke="#808080" stroke-width="0.35" stroke-opacity="0.6"/>
<line x1="139.20" y1="433.0" x2="139.20" y2="453.0" stroke="#808080" stroke-width="0.35" stroke-opacity="0.6"/>
<line x1="141.00" y1="433.0" x2="141.00" y2="453.0" stroke="#808080" stroke-width="0.35" stroke-opacity="0.6"/>
<line x1="142.80" y1="433.0" x2="142.80" y2="453.0" stroke="#808080" stroke-width="0.35" stroke-opacity="0.6"/>
<line x1="144.60" y1="433.0" x2="144.60" y2="453.0" stroke="#808080" stroke-width="0.35" stroke-opacity="0.6"/>
<line x1="146.40" y1="433.0" x2="146.40" y2="453.0" stroke="#808080" stroke-width="0.35" stroke-opacity="0.6"/>
<line x1="148.20" y1="433.0" x2="148.20" y2="453.0" stroke="#808080" stroke-width="0.35" stroke-opacity="0.6"/>
<line x1="150.00" y1="433.0" x2="150.00" y2="453.0" stroke="#808080" stroke-width="0.35" stroke-opacity="0.6"/>
<line x1="151.80" y1="433.0" x2="151.80" y2="453.0" stroke="#808080" stroke-width="0.35" stroke-opacity="0.6"/>
<line x1="153.60" y1="433.0" x2="153.60" y2="453.0" stroke="#808080" stroke-width="0.35" stroke-opacity="0.6"/>
<line x1="155.40" y1="433.0" x2="155.40" y2="453.0" stroke="#808080" stroke-width="0.35" stroke-opacity="0.6"/>
<line x1="157.20" y1="433.0" x2="157.20" y2="453.0" stroke="#808080" stroke-width="0.35" stroke-opacity="0.6"/>
<line x1="159.00" y1="433.0" x2="159.00" y2="453.0" stroke="#808080" stroke-width="0.35" stroke-opacity="0.6"/>
<line x1="160.80" y1="433.0" x2="160.80" y2="453.0" stroke="#808080" stroke-width="0.35" stroke-opacity="0.6"/>
<line x1="162.60" y1="433.0" x2="162.60" y2="453.0" stroke="#808080" stroke-width="0.35" stroke-opacity="0.6"/>
<line x1="164.40" y1="433.0" x2="164.40" y2="453.0" stroke="#808080" stroke-width="0.35" stroke-opacity="0.6"/>
<line x1="166.20" y1="433.0" x2="166.20" y2="453.0" stroke="#808080" stroke-width="0.35" stroke-opacity="0.6"/>
<line x1="168.00" y1="433.0" x2="168.00" y2="453.0" stroke="#808080" stroke-width="0.35" stroke-opacity="0.6"/>
<line x1="169.80" y1="433.0" x2="169.80" y2="453.0" stroke="#808080" stroke-width="0.35" stroke-opacity="0.6"/>
<line x1="171.60" y1="433.0" x2="171.60" y2="453.0" stroke="#808080" stroke-width="0.35" stroke-opacity="0.6"/>
<line x1="173.40" y1="433.0" x2="173.40" y2="453.0" stroke="#808080" stroke-width="0.35" stroke-opacity="0.6"/>
<line x1="175.20" y1="433.0" x2="175.20" y2="453.0" stroke="#808080" stroke-width="0.35" stroke-opacity="0.6"/>
<line x1="177.00" y1="433.0" x2="177.00" y2="453.0" stroke="#808080" stroke-width="0.35" stroke-opacity="0.6"/>
<line x1="178.80" y1="433.0" x2="178.80" y2="453.0" stroke="#808080" stroke-width="0.35" stroke-opacity="0.6"/>
<line x1="180.60" y1="433.0" x2="180.60" y2="453.0" stroke="#808080" stroke-width="0.35" stroke-opacity="0.6"/>
<line x1="182.40" y1="433.0" x2="182.40" y2="453.0" stroke="#808080" stroke-width="0.35" stroke-opacity="0.6"/>
<line x1="184.20" y1="433.0" x2="184.20" y2="453.0" stroke="#808080" stroke-width="0.35" stroke-opacity="0.6"/>
<line x1="186.00" y1="433.0" x2="186.00" y2="453.0" stroke="#808080" stroke-width="0.35" stroke-opacity="0.6"/>
<line x1="187.80" y1="433.0" x2="187.80" y2="453.0" stroke="#808080" stroke-width="0.35" stroke-opacity="0.6"/>
<line x1="189.60" y1="433.0" x2="189.60" y2="453.0" stroke="#808080" stroke-width="0.35" stroke-opacity="0.6"/>
<line x1="191.40" y1="433.0" x2="191.40" y2="453.0" stroke="#808080" stroke-width="0.35" stroke-opacity="0.6"/>
<line x1="193.20" y1="433.0" x2="193.20" y2="453.0" stroke="#808080" stroke-width="0.35" stroke-opacity="0.6"/>
<line x1="195.00" y1="433.0" x2="195.00" y2="453.0" stroke="#808080" stroke-width="0.35" stroke-opacity="0.6"/>
<line x1="196.80" y1="433.0" x2="196.80" y2="453.0" stroke="#808080" stroke-width="0.35" stroke-opacity="0.6"/>
<line x1="198.60" y1="433.0" x2="198.60" y2="453.0" stroke="#808080" stroke-width="0.35" stroke-opacity="0.6"/>
<line x1="200.40" y1="433.0" x2="200.40" y2="453.0" stroke="#808080" stroke-width="0.35" stroke-opacity="0.6"/>
<line x1="202.20" y1="433.0" x2="202.20" y2="453.0" stroke="#808080" stroke-width="0.35" stroke-opacity="0.6"/>
<line x1="204.00" y1="433.0" x2="204.00" y2="453.0" stroke="#808080" stroke-width="0.35" stroke-opacity="0.6"/>
<line x1="205.80" y1="433.0" x2="205.80" y2="453.0" stroke="#808080" stroke-width="0.35" stroke-opacity="0.6"/>
<line x1="207.60" y1="433.0" x2="207.60" y2="453.0" stroke="#808080" stroke-width="0.35" stroke-opacity="0.6"/>
<line x1="209.40" y1="433.0" x2="209.40" y2="453.0" stroke="#808080" stroke-width="0.35" stroke-opacity="0.6"/>
<line x1="211.20" y1="433.0" x2="211.20" y2="453.0" stroke="#808080" stroke-width="0.35" stroke-opacity="0.6"/>
<line x1="213.00" y1="433.0" x2="213.00" y2="453.0" stroke="#808080" stroke-width="0.35" stroke-opacity="0.6"/>
<line x1="214.80" y1="433.0" x2="214.80" y2="453.0" stroke="#808080" stroke-width="0.35" stroke-opacity="0.6"/>
<line x1="216.60" y1="433.0" x2="216.60" y2="453.0" stroke="#808080" stroke-width="0.35" stroke-opacity="0.6"/>
<line x1="218.40" y1="433.0" x2="218.40" y2="453.0" stroke="#808080" stroke-width="0.35" stroke-opacity="0.6"/>
<line x1="220.20" y1="433.0" x2="220.20" y2="453.0" stroke="#808080" stroke-width="0.35" stroke-opacity="0.6"/>
<line x1="222.00" y1="433.0" x2="222.00" y2="453.0" stroke="#808080" stroke-width="0.35" stroke-opacity="0.6"/>
<line x1="223.80" y1="433.0" x2="223.80" y2="453.0" stroke="#808080" stroke-width="0.35" stroke-opacity="0.6"/>
<line x1="225.60" y1="433.0" x2="225.60" y2="453.0" stroke="#808080" stroke-width="0.35" stroke-opacity="0.6"/>
<line x1="227.40" y1="433.0" x2="227.40" y2="453.0" stroke="#808080" stroke-width="0.35" stroke-opacity="0.6"/>
<line x1="229.20" y1="433.0" x2="229.20" y2="453.0" stroke="#808080" stroke-width="0.35" stroke-opacity="0.6"/>
<line x1="231.00" y1="433.0" x2="231.00" y2="453.0" stroke="#808080" stroke-width="0.35" stroke-opacity="0.6"/>
<line x1="232.80" y1="433.0" x2="232.80" y2="453.0" stroke="#808080" stroke-width="0.35" stroke-opacity="0.6"/>
<line x1="234.60" y1="433.0" x2="234.60" y2="453.0" stroke="#808080" stroke-width="0.35" stroke-opacity="0.6"/>
<line x1="236.40" y1="433.0" x2="236.40" y2="453.0" stroke="#808080" stroke-width="0.35" stroke-opacity="0.6"/>
<line x1="238.20" y1="433.0" x2="238.20" y2="453.0" stroke="#808080" stroke-width="0.35" stroke-opacity="0.6"/>
<line x1="240.00" y1="433.0" x2="240.00" y2="453.0" stroke="#808080" stroke-width="0.35" stroke-opacity="0.6"/>
<line x1="241.80" y1="433.0" x2="241.80" y2="453.0" stroke="#808080" stroke-width="0.35" stroke-opacity="0.6"/>
<line x1="243.60" y1="433.0" x2="243.60" y2="453.0" stroke="#808080" stroke-width="0.35" stroke-opacity="0.6"/>
<line x1="245.40" y1="433.0" x2="245.40" y2="453.0" stroke="#808080" stroke-width="0.35" stroke-opacity="0.6"/>
<line x1="247.20" y1="433.0" x2="247.20" y2="453.0" stroke="#808080" stroke-width="0.35" stroke-opacity="0.6"/>
<line x1="249.00" y1="433.0" x2="249.00" y2="453.0" stroke="#808080" stroke-width="0.35" stroke-opacity="0.6"/>
<line x1="250.80" y1="433.0" x2="250.80" y2="453.0" stroke="#808080" stroke-width="0.35" stroke-opacity="0.6"/>
<line x1="252.60" y1="433.0" x2="252.60" y2="453.0" stroke="#808080" stroke-width="0.35" stroke-opacity="0.6"/>
<line x1="254.40" y1="433.0" x2="254.40" y2="453.0" stroke="#808080" stroke-width="0.35" stroke-opacity="0.6"/>
<line x1="256.20" y1="433.0" x2="256.20" y2="453.0" stroke="#808080" stroke-width="0.35" stroke-opacity="0.6"/>
<line x1="258.00" y1="433.0" x2="258.00" y2="453.0" stroke="#808080" stroke-width="0.35" stroke-opacity="0.6"/>
<line x1="259.80" y1="433.0" x2="259.80" y2="453.0" stroke="#808080" stroke-width="0.35" stroke-opacity="0.6"/>
<line x1="261.60" y1="433.0" x2="261.60" y2="453.0" stroke="#808080" stroke-width="0.35" stroke-opacity="0.6"/>
<line x1="263.40" y1="433.0" x2="263.40" y2="453.0" stroke="#808080" stroke-width="0.35" stroke-opacity="0.6"/>
<line x1="265.20" y1="433.0" x2="265.20" y2="453.0" stroke="#808080" stroke-width="0.35" stroke-opacity="0.6"/>
<line x1="267.00" y1="433.0" x2="267.00" y2="453.0" stroke="#808080" stroke-width="0.35" stroke-opacity="0.6"/>
<line x1="268.80" y1="433.0" x2="268.80" y2="453.0" stroke="#808080" stroke-width="0.35" stroke-opacity="0.6"/>
<line x1="270.60" y1="433.0" x2="270.60" y2="453.0" stroke="#808080" stroke-width="0.35" stroke-opacity="0.6"/>
<line x1="272.40" y1="433.0" x2="272.40" y2="453.0" stroke="#808080" stroke-width="0.35" stroke-opacity="0.6"/>
<line x1="274.20" y1="433.0" x2="274.20" y2="453.0" stroke="#808080" stroke-width="0.35" stroke-opacity="0.6"/>
<line x1="276.00" y1="433.0" x2="276.00" y2="453.0" stroke="#808080" stroke-width="0.35" stroke-opacity="0.6"/>
<line x1="277.80" y1="433.0" x2="277.80" y2="453.0" stroke="#808080" stroke-width="0.35" stroke-opacity="0.6"/>
<line x1="279.60" y1="433.0" x2="279.60" y2="453.0" stroke="#808080" stroke-width="0.35" stroke-opacity="0.6"/>
<line x1="281.40" y1="433.0" x2="281.40" y2="453.0" stroke="#808080" stroke-width="0.35" stroke-opacity="0.6"/>
<line x1="283.20" y1="433.0" x2="283.20" y2="453.0" stroke="#808080" stroke-width="0.35" stroke-opacity="0.6"/>
<line x1="285.00" y1="433.0" x2="285.00" y2="453.0" stroke="#808080" stroke-width="0.35" stroke-opacity="0.6"/>
<line x1="286.80" y1="433.0" x2="286.80" y2="453.0" stroke="#808080" stroke-width="0.35" stroke-opacity="0.6"/>
<line x1="288.60" y1="433.0" x2="288.60" y2="453.0" stroke="#808080" stroke-width="0.35" stroke-opacity="0.6"/>
<line x1="290.40" y1="433.0" x2="290.40" y2="453.0" stroke="#808080" stroke-width="0.35" stroke-opacity="0.6"/>
<line x1="292.20" y1="433.0" x2="292.20" y2="453.0" stroke="#808080" stroke-width="0.35" stroke-opacity="0.6"/>
<line x1="294.00" y1="433.0" x2="294.00" y2="453.0" stroke="#808080" stroke-width="0.35" stroke-opacity="0.6"/>
<line x1="295.80" y1="433.0" x2="295.80" y2="453.0" stroke="#808080" stroke-width="0.35" stroke-opacity="0.6"/>
<line x1="297.60" y1="433.0" x2="297.60" y2="453.0" stroke="#808080" stroke-width="0.35" stroke-opacity="0.6"/>
<line x1="299.40" y1="433.0" x2="299.40" y2="453.0" stroke="#808080" stroke-width="0.35" stroke-opacity="0.6"/>
<line x1="301.20" y1="433.0" x2="301.20" y2="453.0" stroke="#808080" stroke-width="0.35" stroke-opacity="0.6"/>
<line x1="303.00" y1="433.0" x2="303.00" y2="453.0" stroke="#808080" stroke-width="0.35" stroke-opacity="0.6"/>
<line x1="304.80" y1="433.0" x2="304.80" y2="453.0" stroke="#808080" stroke-width="0.35" stroke-opacity="0.6"/>
<line x1="306.60" y1="433.0" x2="306.60" y2="453.0" stroke="#808080" stroke-width="0.35" stroke-opacity="0.6"/>
<line x1="308.40" y1="433.0" x2="308.40" y2="453.0" stroke="#808080" stroke-width="0.35" stroke-opacity="0.6"/>
<line x1="310.20" y1="433.0" x2="310.20" y2="453.0" stroke="#808080" stroke-width="0.35" stroke-opacity="0.6"/>
<line x1="312.00" y1="433.0" x2="312.00" y2="453.0" stroke="#808080" stroke-width="0.35" stroke-opacity="0.6"/>
<line x1="313.80" y1="433.0" x2="313.80" y2="453.0" stroke="#808080" stroke-width="0.35" stroke-opacity="0.6"/>
<line x1="315.60" y1="433.0" x2="315.60" y2="453.0" stroke="#808080" stroke-width="0.35" stroke-opacity="0.6"/>
<line x1="317.40" y1="433.0" x2="317.40" y2="453.0" stroke="#808080" stroke-width="0.35" stroke-opacity="0.6"/>
<line x1="319.20" y1="433.0" x2="319.20" y2="453.0" stroke="#808080" stroke-width="0.35" stroke-opacity="0.6"/>
<line x1="321.00" y1="433.0" x2="321.00" y2="453.0" stroke="#808080" stroke-width="0.35" stroke-opacity="0.6"/>
<line x1="322.80" y1="433.0" x2="322.80" y2="453.0" stroke="#808080" stroke-width="0.35" stroke-opacity="0.6"/>
<line x1="324.60" y1="433.0" x2="324.60" y2="453.0" stroke="#808080" stroke-width="0.35" stroke-opacity="0.6"/>
<line x1="326.40" y1="433.0" x2="326.40" y2="453.0" stroke="#808080" stroke-width="0.35" stroke-opacity="0.6"/>
<line x1="328.20" y1="433.0" x2="328.20" y2="453.0" stroke="#808080" stroke-width="0.35" stroke-opacity="0.6"/>
<line x1="330.00" y1="433.0" x2="330.00" y2="453.0" stroke="#808080" stroke-width="0.35" stroke-opacity="0.6"/>
<line x1="139.60" y1="433.00" x2="139.60" y2="453.00" stroke="#8a8a8a" stroke-width="0.6"/>
<line x1="175.60" y1="433.00" x2="175.60" y2="453.00" stroke="#8a8a8a" stroke-width="0.6"/>
<line x1="204.60" y1="433.00" x2="204.60" y2="453.00" stroke="#8a8a8a" stroke-width="0.6"/>
<line x1="232.30" y1="433.00" x2="232.30" y2="453.00" stroke="#8a8a8a" stroke-width="0.6"/>
<line x1="254.40" y1="433.00" x2="254.40" y2="453.00" stroke="#8a8a8a" stroke-width="0.6"/>
<line x1="273.70" y1="433.00" x2="273.70" y2="453.00" stroke="#8a8a8a" stroke-width="0.6"/>
<line x1="289.70" y1="433.00" x2="289.70" y2="453.00" stroke="#8a8a8a" stroke-width="0.6"/>
<line x1="303.50" y1="433.00" x2="303.50" y2="453.00" stroke="#8a8a8a" stroke-width="0.6"/>
<line x1="313.50" y1="433.00" x2="313.50" y2="453.00" stroke="#8a8a8a" stroke-width="0.6"/>
<line x1="321.40" y1="433.00" x2="321.40" y2="453.00" stroke="#8a8a8a" stroke-width="0.6"/>
<line x1="325.10" y1="433.00" x2="325.10" y2="453.00" stroke="#8a8a8a" stroke-width="0.6"/>
<line x1="328.40" y1="433.00" x2="328.40" y2="453.00" stroke="#8a8a8a" stroke-width="0.6"/>
<rect x="51" y="433.0" width="280" height="20.0" fill="none" stroke="#8a8a8a" stroke-width="0.9"/>
<line x1="51.00" y1="443.00" x2="331.00" y2="443.00" stroke="#8a8a8a" stroke-width="0.4"/>
<line x1="139.60" y1="453.00" x2="139.60" y2="521.80" stroke="#9b9b9b" stroke-width="0.8"/>
<line x1="175.60" y1="453.00" x2="175.60" y2="521.80" stroke="#9b9b9b" stroke-width="0.8"/>
<line x1="204.60" y1="453.00" x2="204.60" y2="521.80" stroke="#9b9b9b" stroke-width="0.8"/>
<line x1="232.30" y1="453.00" x2="232.30" y2="521.80" stroke="#9b9b9b" stroke-width="0.8"/>
<line x1="254.40" y1="453.00" x2="254.40" y2="521.80" stroke="#9b9b9b" stroke-width="0.8"/>
<line x1="273.70" y1="453.00" x2="273.70" y2="521.80" stroke="#9b9b9b" stroke-width="0.8"/>
<line x1="289.70" y1="453.00" x2="289.70" y2="521.80" stroke="#9b9b9b" stroke-width="0.8"/>
<line x1="303.50" y1="453.00" x2="303.50" y2="521.80" stroke="#9b9b9b" stroke-width="0.8"/>
<line x1="313.50" y1="453.00" x2="313.50" y2="521.80" stroke="#9b9b9b" stroke-width="0.8"/>
<line x1="321.40" y1="453.00" x2="321.40" y2="521.80" stroke="#9b9b9b" stroke-width="0.8"/>
<line x1="325.10" y1="453.00" x2="325.10" y2="521.80" stroke="#9b9b9b" stroke-width="0.8"/>
<line x1="328.40" y1="453.00" x2="328.40" y2="521.80" stroke="#9b9b9b" stroke-width="0.8"/>
<line x1="51.00" y1="497.40" x2="331.50" y2="497.40" stroke="#6d6e71" stroke-width="0.8"/>
<line x1="51.00" y1="489.60" x2="331.50" y2="489.60" stroke="#58595b" stroke-width="0.8" stroke-dasharray="1,1.2"/>
<line x1="51.00" y1="505.10" x2="331.50" y2="505.10" stroke="#58595b" stroke-width="0.8" stroke-dasharray="1,1.2"/>
<line x1="51.00" y1="453.20" x2="51.00" y2="468.20" stroke="#231f20" stroke-width="0.8"/>
<line x1="51.00" y1="473.60" x2="51.00" y2="521.00" stroke="#231f20" stroke-width="0.8"/>
<line x1="48.40" y1="453.70" x2="51.00" y2="453.70" stroke="#231f20" stroke-width="0.7"/>
<line x1="48.40" y1="464.00" x2="51.00" y2="464.00" stroke="#231f20" stroke-width="0.7"/>
<line x1="48.40" y1="481.90" x2="51.00" y2="481.90" stroke="#231f20" stroke-width="0.7"/>
<line x1="48.40" y1="489.60" x2="51.00" y2="489.60" stroke="#231f20" stroke-width="0.7"/>
<line x1="48.40" y1="497.40" x2="51.00" y2="497.40" stroke="#231f20" stroke-width="0.7"/>
<line x1="48.40" y1="505.10" x2="51.00" y2="505.10" stroke="#231f20" stroke-width="0.7"/>
<line x1="48.40" y1="513.10" x2="51.00" y2="513.10" stroke="#231f20" stroke-width="0.7"/>
<line x1="48.40" y1="520.60" x2="51.00" y2="520.60" stroke="#231f20" stroke-width="0.7"/>
<line x1="49.20" y1="468.20" x2="53.40" y2="468.20" stroke="#231f20" stroke-width="0.7"/>
<line x1="49.20" y1="473.60" x2="53.40" y2="473.60" stroke="#231f20" stroke-width="0.7"/>
<text x="44.30" y="456.55" font-size="7.92" fill="#231f20" stroke="#231f20" stroke-width="0.18" text-anchor="end" textLength="7.93" lengthAdjust="spacingAndGlyphs">10</text>
<text x="44.30" y="466.85" font-size="7.92" fill="#231f20" stroke="#231f20" stroke-width="0.18" text-anchor="end" textLength="3.96" lengthAdjust="spacingAndGlyphs">5</text>
<text x="44.30" y="477.05" font-size="7.92" fill="#231f20" stroke="#231f20" stroke-width="0.18" text-anchor="end" textLength="3.96" lengthAdjust="spacingAndGlyphs">3</text>
<text x="44.30" y="484.75" font-size="7.92" fill="#231f20" stroke="#231f20" stroke-width="0.18" text-anchor="end" textLength="3.96" lengthAdjust="spacingAndGlyphs">2</text>
<text x="44.30" y="492.45" font-size="7.92" fill="#231f20" stroke="#231f20" stroke-width="0.18" text-anchor="end" textLength="3.96" lengthAdjust="spacingAndGlyphs">1</text>
<text x="44.30" y="500.25" font-size="7.92" fill="#231f20" stroke="#231f20" stroke-width="0.18" text-anchor="end" textLength="3.96" lengthAdjust="spacingAndGlyphs">0</text>
<text x="44.30" y="507.95" font-size="7.92" fill="#231f20" stroke="#231f20" stroke-width="0.18" text-anchor="end" textLength="8.13" lengthAdjust="spacingAndGlyphs">−1</text>
<text x="44.30" y="515.95" font-size="7.92" fill="#231f20" stroke="#231f20" stroke-width="0.18" text-anchor="end" textLength="8.13" lengthAdjust="spacingAndGlyphs">−2</text>
<text x="44.30" y="523.45" font-size="7.92" fill="#231f20" stroke="#231f20" stroke-width="0.18" text-anchor="end" textLength="8.13" lengthAdjust="spacingAndGlyphs">−3</text>
<text transform="translate(31.43,487.00) rotate(-90)" font-size="8.69" fill="#231f20" stroke="#231f20" stroke-width="0.18" text-anchor="middle" textLength="76.00" lengthAdjust="spacingAndGlyphs"><tspan font-style="italic">MS4A3</tspan> mRNA (<tspan font-style="italic">z</tspan>-score)</text>
<rect x="56.33" y="504.43" width="1.55" height="1.55" fill="#111111"/>
<rect x="57.56" y="503.82" width="1.55" height="1.55" fill="#111111"/>
<rect x="58.79" y="503.23" width="1.55" height="1.55" fill="#111111"/>
<rect x="60.02" y="502.62" width="1.55" height="1.55" fill="#111111"/>
<rect x="61.40" y="502.35" width="1.55" height="1.55" fill="#111111"/>
<rect x="62.77" y="502.08" width="1.55" height="1.55" fill="#111111"/>
<rect x="64.15" y="501.80" width="1.55" height="1.55" fill="#111111"/>
<rect x="65.52" y="501.53" width="1.55" height="1.55" fill="#111111"/>
<rect x="66.88" y="501.25" width="1.55" height="1.55" fill="#111111"/>
<rect x="68.22" y="500.98" width="1.55" height="1.55" fill="#111111"/>
<rect x="69.57" y="500.70" width="1.55" height="1.55" fill="#111111"/>
<rect x="70.92" y="500.43" width="1.55" height="1.55" fill="#111111"/>
<rect x="72.20" y="500.28" width="1.55" height="1.55" fill="#111111"/>
<rect x="73.48" y="500.12" width="1.55" height="1.55" fill="#111111"/>
<rect x="74.77" y="499.98" width="1.55" height="1.55" fill="#111111"/>
<rect x="76.05" y="499.82" width="1.55" height="1.55" fill="#111111"/>
<rect x="77.32" y="499.68" width="1.55" height="1.55" fill="#111111"/>
<rect x="78.60" y="499.53" width="1.55" height="1.55" fill="#111111"/>
<rect x="79.88" y="499.38" width="1.55" height="1.55" fill="#111111"/>
<rect x="81.16" y="499.23" width="1.55" height="1.55" fill="#111111"/>
<rect x="82.44" y="499.07" width="1.55" height="1.55" fill="#111111"/>
<rect x="83.72" y="498.93" width="1.55" height="1.55" fill="#111111"/>
<rect x="85.10" y="498.79" width="1.55" height="1.55" fill="#111111"/>
<rect x="86.47" y="498.65" width="1.55" height="1.55" fill="#111111"/>
<rect x="87.85" y="498.51" width="1.55" height="1.55" fill="#111111"/>
<rect x="89.22" y="498.38" width="1.55" height="1.55" fill="#111111"/>
<rect x="90.60" y="498.24" width="1.55" height="1.55" fill="#111111"/>
<rect x="91.97" y="498.10" width="1.55" height="1.55" fill="#111111"/>
<rect x="93.35" y="497.96" width="1.55" height="1.55" fill="#111111"/>
<rect x="94.72" y="497.83" width="1.55" height="1.55" fill="#111111"/>
<rect x="96.10" y="497.71" width="1.55" height="1.55" fill="#111111"/>
<rect x="97.47" y="497.60" width="1.55" height="1.55" fill="#111111"/>
<rect x="98.85" y="497.49" width="1.55" height="1.55" fill="#111111"/>
<rect x="100.22" y="497.38" width="1.55" height="1.55" fill="#111111"/>
<rect x="101.60" y="497.26" width="1.55" height="1.55" fill="#111111"/>
<rect x="102.97" y="497.15" width="1.55" height="1.55" fill="#111111"/>
<rect x="104.35" y="497.04" width="1.55" height="1.55" fill="#111111"/>
<rect x="105.72" y="496.93" width="1.55" height="1.55" fill="#111111"/>
<rect x="107.07" y="496.48" width="1.55" height="1.55" fill="#111111"/>
<rect x="108.42" y="496.03" width="1.55" height="1.55" fill="#111111"/>
<rect x="109.70" y="495.73" width="1.55" height="1.55" fill="#111111"/>
<rect x="110.98" y="495.43" width="1.55" height="1.55" fill="#111111"/>
<rect x="112.26" y="495.13" width="1.55" height="1.55" fill="#111111"/>
<rect x="113.54" y="494.83" width="1.55" height="1.55" fill="#111111"/>
<rect x="114.82" y="494.53" width="1.55" height="1.55" fill="#111111"/>
<rect x="116.15" y="494.43" width="1.55" height="1.55" fill="#111111"/>
<rect x="117.48" y="494.33" width="1.55" height="1.55" fill="#111111"/>
<rect x="118.81" y="494.23" width="1.55" height="1.55" fill="#111111"/>
<rect x="120.13" y="494.12" width="1.55" height="1.55" fill="#111111"/>
<rect x="121.46" y="494.03" width="1.55" height="1.55" fill="#111111"/>
<rect x="122.79" y="493.93" width="1.55" height="1.55" fill="#111111"/>
<rect x="124.12" y="493.83" width="1.55" height="1.55" fill="#111111"/>
<rect x="125.44" y="493.73" width="1.55" height="1.55" fill="#111111"/>
<rect x="126.77" y="493.62" width="1.55" height="1.55" fill="#111111"/>
<rect x="128.10" y="493.53" width="1.55" height="1.55" fill="#111111"/>
<rect x="129.42" y="493.43" width="1.55" height="1.55" fill="#111111"/>
<rect x="130.36" y="492.66" width="1.55" height="1.55" fill="#111111"/>
<rect x="131.29" y="491.89" width="1.55" height="1.55" fill="#111111"/>
<rect x="132.22" y="491.12" width="1.55" height="1.55" fill="#111111"/>
<rect x="133.35" y="490.75" width="1.55" height="1.55" fill="#111111"/>
<rect x="134.47" y="490.38" width="1.55" height="1.55" fill="#111111"/>
<rect x="135.60" y="490.00" width="1.55" height="1.55" fill="#111111"/>
<rect x="136.72" y="489.62" width="1.55" height="1.55" fill="#111111"/>
<rect x="139.82" y="502.23" width="1.55" height="1.55" fill="#111111"/>
<rect x="141.05" y="501.90" width="1.55" height="1.55" fill="#111111"/>
<rect x="142.28" y="501.57" width="1.55" height="1.55" fill="#111111"/>
<rect x="143.51" y="501.24" width="1.55" height="1.55" fill="#111111"/>
<rect x="144.74" y="500.91" width="1.55" height="1.55" fill="#111111"/>
<rect x="145.97" y="500.58" width="1.55" height="1.55" fill="#111111"/>
<rect x="147.20" y="500.25" width="1.55" height="1.55" fill="#111111"/>
<rect x="148.42" y="499.93" width="1.55" height="1.55" fill="#111111"/>
<rect x="149.80" y="499.65" width="1.55" height="1.55" fill="#111111"/>
<rect x="151.17" y="499.38" width="1.55" height="1.55" fill="#111111"/>
<rect x="152.54" y="499.11" width="1.55" height="1.55" fill="#111111"/>
<rect x="153.91" y="498.84" width="1.55" height="1.55" fill="#111111"/>
<rect x="155.28" y="498.57" width="1.55" height="1.55" fill="#111111"/>
<rect x="156.65" y="498.30" width="1.55" height="1.55" fill="#111111"/>
<rect x="158.03" y="498.03" width="1.55" height="1.55" fill="#111111"/>
<rect x="159.31" y="497.69" width="1.55" height="1.55" fill="#111111"/>
<rect x="160.59" y="497.36" width="1.55" height="1.55" fill="#111111"/>
<rect x="161.88" y="497.03" width="1.55" height="1.55" fill="#111111"/>
<rect x="163.16" y="496.69" width="1.55" height="1.55" fill="#111111"/>
<rect x="164.44" y="496.36" width="1.55" height="1.55" fill="#111111"/>
<rect x="165.72" y="496.03" width="1.55" height="1.55" fill="#111111"/>
<rect x="167.03" y="495.19" width="1.55" height="1.55" fill="#111111"/>
<rect x="168.32" y="494.36" width="1.55" height="1.55" fill="#111111"/>
<rect x="169.62" y="493.53" width="1.55" height="1.55" fill="#111111"/>
<rect x="170.57" y="492.58" width="1.55" height="1.55" fill="#111111"/>
<rect x="171.53" y="491.62" width="1.55" height="1.55" fill="#111111"/>
<rect x="172.47" y="490.68" width="1.55" height="1.55" fill="#111111"/>
<rect x="173.42" y="489.73" width="1.55" height="1.55" fill="#111111"/>
<rect x="178.82" y="501.23" width="1.55" height="1.55" fill="#111111"/>
<rect x="180.06" y="500.47" width="1.55" height="1.55" fill="#111111"/>
<rect x="181.31" y="499.71" width="1.55" height="1.55" fill="#111111"/>
<rect x="182.54" y="498.94" width="1.55" height="1.55" fill="#111111"/>
<rect x="183.78" y="498.19" width="1.55" height="1.55" fill="#111111"/>
<rect x="185.03" y="497.43" width="1.55" height="1.55" fill="#111111"/>
<rect x="186.31" y="496.78" width="1.55" height="1.55" fill="#111111"/>
<rect x="187.59" y="496.12" width="1.55" height="1.55" fill="#111111"/>
<rect x="188.88" y="495.48" width="1.55" height="1.55" fill="#111111"/>
<rect x="190.16" y="494.83" width="1.55" height="1.55" fill="#111111"/>
<rect x="191.44" y="494.18" width="1.55" height="1.55" fill="#111111"/>
<rect x="192.72" y="493.53" width="1.55" height="1.55" fill="#111111"/>
<rect x="193.67" y="492.58" width="1.55" height="1.55" fill="#111111"/>
<rect x="194.62" y="491.62" width="1.55" height="1.55" fill="#111111"/>
<rect x="195.58" y="490.68" width="1.55" height="1.55" fill="#111111"/>
<rect x="196.53" y="489.73" width="1.55" height="1.55" fill="#111111"/>
<rect x="206.53" y="501.23" width="1.55" height="1.55" fill="#111111"/>
<rect x="207.75" y="500.59" width="1.55" height="1.55" fill="#111111"/>
<rect x="208.97" y="499.96" width="1.55" height="1.55" fill="#111111"/>
<rect x="210.19" y="499.33" width="1.55" height="1.55" fill="#111111"/>
<rect x="211.41" y="498.69" width="1.55" height="1.55" fill="#111111"/>
<rect x="212.64" y="498.06" width="1.55" height="1.55" fill="#111111"/>
<rect x="213.86" y="497.43" width="1.55" height="1.55" fill="#111111"/>
<rect x="215.08" y="496.79" width="1.55" height="1.55" fill="#111111"/>
<rect x="216.30" y="496.16" width="1.55" height="1.55" fill="#111111"/>
<rect x="217.53" y="495.53" width="1.55" height="1.55" fill="#111111"/>
<rect x="218.80" y="495.30" width="1.55" height="1.55" fill="#111111"/>
<rect x="220.08" y="495.08" width="1.55" height="1.55" fill="#111111"/>
<rect x="221.36" y="494.86" width="1.55" height="1.55" fill="#111111"/>
<rect x="222.64" y="494.64" width="1.55" height="1.55" fill="#111111"/>
<rect x="223.91" y="494.41" width="1.55" height="1.55" fill="#111111"/>
<rect x="225.19" y="494.19" width="1.55" height="1.55" fill="#111111"/>
<rect x="226.47" y="493.97" width="1.55" height="1.55" fill="#111111"/>
<rect x="227.75" y="493.75" width="1.55" height="1.55" fill="#111111"/>
<rect x="229.03" y="493.53" width="1.55" height="1.55" fill="#111111"/>
<rect x="232.32" y="499.93" width="1.55" height="1.55" fill="#111111"/>
<rect x="233.41" y="499.31" width="1.55" height="1.55" fill="#111111"/>
<rect x="234.48" y="498.69" width="1.55" height="1.55" fill="#111111"/>
<rect x="235.56" y="498.07" width="1.55" height="1.55" fill="#111111"/>
<rect x="236.64" y="497.45" width="1.55" height="1.55" fill="#111111"/>
<rect x="237.72" y="496.83" width="1.55" height="1.55" fill="#111111"/>
<rect x="239.08" y="496.64" width="1.55" height="1.55" fill="#111111"/>
<rect x="240.44" y="496.45" width="1.55" height="1.55" fill="#111111"/>
<rect x="241.80" y="496.27" width="1.55" height="1.55" fill="#111111"/>
<rect x="243.15" y="496.08" width="1.55" height="1.55" fill="#111111"/>
<rect x="244.51" y="495.90" width="1.55" height="1.55" fill="#111111"/>
<rect x="245.87" y="495.71" width="1.55" height="1.55" fill="#111111"/>
<rect x="247.22" y="495.53" width="1.55" height="1.55" fill="#111111"/>
<rect x="248.82" y="494.93" width="1.55" height="1.55" fill="#111111"/>
<rect x="249.82" y="489.73" width="1.55" height="1.55" fill="#111111"/>
<rect x="251.17" y="489.73" width="1.55" height="1.55" fill="#111111"/>
<rect x="252.53" y="489.73" width="1.55" height="1.55" fill="#111111"/>
<rect x="254.42" y="503.53" width="1.55" height="1.55" fill="#111111"/>
<rect x="255.17" y="502.23" width="1.55" height="1.55" fill="#111111"/>
<rect x="255.92" y="500.93" width="1.55" height="1.55" fill="#111111"/>
<rect x="257.29" y="500.81" width="1.55" height="1.55" fill="#111111"/>
<rect x="258.65" y="500.69" width="1.55" height="1.55" fill="#111111"/>
<rect x="260.00" y="500.57" width="1.55" height="1.55" fill="#111111"/>
<rect x="261.37" y="500.45" width="1.55" height="1.55" fill="#111111"/>
<rect x="262.73" y="500.33" width="1.55" height="1.55" fill="#111111"/>
<rect x="263.68" y="499.60" width="1.55" height="1.55" fill="#111111"/>
<rect x="264.62" y="498.88" width="1.55" height="1.55" fill="#111111"/>
<rect x="265.58" y="498.15" width="1.55" height="1.55" fill="#111111"/>
<rect x="266.53" y="497.43" width="1.55" height="1.55" fill="#111111"/>
<rect x="267.48" y="496.18" width="1.55" height="1.55" fill="#111111"/>
<rect x="268.43" y="494.93" width="1.55" height="1.55" fill="#111111"/>
<rect x="273.83" y="503.53" width="1.55" height="1.55" fill="#111111"/>
<rect x="274.59" y="502.46" width="1.55" height="1.55" fill="#111111"/>
<rect x="275.36" y="501.39" width="1.55" height="1.55" fill="#111111"/>
<rect x="276.12" y="500.33" width="1.55" height="1.55" fill="#111111"/>
<rect x="277.32" y="499.93" width="1.55" height="1.55" fill="#111111"/>
<rect x="278.52" y="499.53" width="1.55" height="1.55" fill="#111111"/>
<rect x="279.73" y="499.12" width="1.55" height="1.55" fill="#111111"/>
<rect x="280.93" y="498.73" width="1.55" height="1.55" fill="#111111"/>
<rect x="282.12" y="498.05" width="1.55" height="1.55" fill="#111111"/>
<rect x="283.33" y="497.38" width="1.55" height="1.55" fill="#111111"/>
<rect x="284.53" y="496.70" width="1.55" height="1.55" fill="#111111"/>
<rect x="285.73" y="496.03" width="1.55" height="1.55" fill="#111111"/>
<rect x="286.73" y="495.48" width="1.55" height="1.55" fill="#111111"/>
<rect x="287.73" y="494.93" width="1.55" height="1.55" fill="#111111"/>
<rect x="289.62" y="500.33" width="1.55" height="1.55" fill="#111111"/>
<rect x="291.07" y="499.93" width="1.55" height="1.55" fill="#111111"/>
<rect x="292.52" y="499.53" width="1.55" height="1.55" fill="#111111"/>
<rect x="293.98" y="499.12" width="1.55" height="1.55" fill="#111111"/>
<rect x="295.43" y="498.73" width="1.55" height="1.55" fill="#111111"/>
<rect x="307.62" y="499.93" width="1.55" height="1.55" fill="#111111"/>
<rect x="308.18" y="498.73" width="1.55" height="1.55" fill="#111111"/>
<rect x="308.73" y="497.53" width="1.55" height="1.55" fill="#111111"/>
<rect x="309.98" y="497.62" width="1.55" height="1.55" fill="#111111"/>
<rect x="311.23" y="497.73" width="1.55" height="1.55" fill="#111111"/>
<rect x="313.73" y="499.43" width="1.55" height="1.55" fill="#111111"/>
<rect x="314.85" y="498.88" width="1.55" height="1.55" fill="#111111"/>
<rect x="315.98" y="498.33" width="1.55" height="1.55" fill="#111111"/>
<rect x="317.10" y="497.78" width="1.55" height="1.55" fill="#111111"/>
<rect x="318.23" y="497.23" width="1.55" height="1.55" fill="#111111"/>
<rect x="321.33" y="497.93" width="1.55" height="1.55" fill="#111111"/>
<rect x="322.28" y="497.33" width="1.55" height="1.55" fill="#111111"/>
<rect x="323.23" y="496.73" width="1.55" height="1.55" fill="#111111"/>
<rect x="325.00" y="493.80" width="1.80" height="1.80" fill="#111111"/>
<rect x="327.20" y="490.40" width="1.80" height="1.80" fill="#111111"/>
<rect x="51.10" y="512.30" width="1.80" height="1.80" fill="#29abe2"/>
<rect x="53.50" y="508.30" width="1.80" height="1.80" fill="#29abe2"/>
<rect x="55.30" y="505.20" width="1.80" height="1.80" fill="#29abe2"/>
<rect x="175.62" y="511.83" width="1.55" height="1.55" fill="#29abe2"/>
<rect x="176.92" y="511.83" width="1.55" height="1.55" fill="#29abe2"/>
<rect x="178.22" y="511.83" width="1.55" height="1.55" fill="#29abe2"/>
<rect x="205.10" y="513.30" width="1.80" height="1.80" fill="#29abe2"/>
<rect x="303.70" y="512.00" width="1.80" height="1.80" fill="#29abe2"/>
<rect x="305.60" y="508.00" width="1.80" height="1.80" fill="#29abe2"/>
<rect x="137.90" y="487.30" width="1.80" height="1.80" fill="#ed1c24"/>
<rect x="202.80" y="484.20" width="1.80" height="1.80" fill="#ed1c24"/>
<rect x="230.40" y="486.70" width="1.80" height="1.80" fill="#ed1c24"/>
<rect x="269.90" y="482.30" width="1.80" height="1.80" fill="#ed1c24"/>
<rect x="271.80" y="480.10" width="1.80" height="1.80" fill="#ed1c24"/>
<rect x="319.00" y="456.60" width="1.80" height="1.80" fill="#ed1c24"/>
<rect x="329.00" y="466.10" width="1.80" height="1.80" fill="#ed1c24"/>
<rect x="198.82" y="488.43" width="1.55" height="1.55" fill="#ed1c24"/>
<rect x="200.37" y="488.43" width="1.55" height="1.55" fill="#ed1c24"/>
<rect x="201.92" y="488.43" width="1.55" height="1.55" fill="#ed1c24"/>
<rect x="297.53" y="488.23" width="1.55" height="1.55" fill="#ed1c24"/>
<rect x="299.03" y="487.76" width="1.55" height="1.55" fill="#ed1c24"/>
<rect x="300.53" y="487.29" width="1.55" height="1.55" fill="#ed1c24"/>
<rect x="302.03" y="486.83" width="1.55" height="1.55" fill="#ed1c24"/>
<text x="265.40" y="461.77" font-size="7.15" fill="#58595b" stroke="#58595b" stroke-width="0" font-weight="bold" font-style="italic" text-anchor="middle">#</text>
<text x="296.80" y="461.87" font-size="7.15" fill="#58595b" stroke="#58595b" stroke-width="0" font-weight="bold" font-style="italic" text-anchor="middle">##</text>
<text x="334.20" y="441.29" font-size="9.13" fill="#231f20" stroke="#231f20" stroke-width="0.18" textLength="63.90" lengthAdjust="spacingAndGlyphs">Relative expression</text>
<text x="334.20" y="450.29" font-size="9.13" fill="#231f20" stroke="#231f20" stroke-width="0.18" textLength="44.30" lengthAdjust="spacingAndGlyphs">Drug targets:</text>
<rect x="406.90" y="435.00" width="33.90" height="7.60" fill="url(#cbar)" stroke="#231f20" stroke-width="0.8"/>
<text x="407.00" y="433.09" font-size="7.48" fill="#231f20" stroke="#231f20" stroke-width="0.18" text-anchor="middle">0.1</text>
<text x="424.40" y="433.09" font-size="7.48" fill="#231f20" stroke="#231f20" stroke-width="0.18" text-anchor="middle">1.0</text>
<text x="440.00" y="433.09" font-size="7.48" fill="#231f20" stroke="#231f20" stroke-width="0.18" text-anchor="middle">5.7</text>
<rect x="353.8" y="455.6" width="111.2" height="82.8" fill="none" stroke="#6d6e71" stroke-width="0.9"/>
<text x="366.20" y="463.38" font-size="6.05" fill="#7c3f98" stroke="#7c3f98" stroke-width="0" font-weight="bold" textLength="17.40" lengthAdjust="spacingAndGlyphs">HDAC</text>
<text x="366.20" y="469.28" font-size="6.05" fill="#d67fbf" stroke="#d67fbf" stroke-width="0" font-weight="bold" textLength="93.80" lengthAdjust="spacingAndGlyphs">SIRT / Histone acetyltransferase</text>
<text x="366.20" y="475.28" font-size="6.05" fill="#3b6dbf" stroke="#3b6dbf" stroke-width="0" font-weight="bold" textLength="95.70" lengthAdjust="spacingAndGlyphs">Histone methyltransferase / G9a</text>
<text x="366.20" y="481.08" font-size="6.05" fill="#f2e500" stroke="#f2e500" stroke-width="0" font-weight="bold" textLength="80.00" lengthAdjust="spacingAndGlyphs">Chromosome reader / BRD</text>
<text x="366.20" y="487.18" font-size="6.05" fill="#e06bb6" stroke="#e06bb6" stroke-width="0" font-weight="bold" textLength="34.70" lengthAdjust="spacingAndGlyphs">Metabolism</text>
<text x="366.20" y="493.18" font-size="6.05" fill="#be1e2d" stroke="#be1e2d" stroke-width="0" font-weight="bold" textLength="76.50" lengthAdjust="spacingAndGlyphs">DNA methylation / DNMT</text>
<text x="366.20" y="499.08" font-size="6.05" fill="#8dc63f" stroke="#8dc63f" stroke-width="0" font-weight="bold" textLength="66.90" lengthAdjust="spacingAndGlyphs">Histone demethylation</text>
<text x="366.20" y="504.88" font-size="6.05" fill="#11a04a" stroke="#11a04a" stroke-width="0" font-weight="bold" textLength="38.00" lengthAdjust="spacingAndGlyphs">EZH2 / PRC2</text>
<text x="366.20" y="510.68" font-size="6.05" fill="#f15a29" stroke="#f15a29" stroke-width="0" font-weight="bold" textLength="33.40" lengthAdjust="spacingAndGlyphs">DNA repair</text>
<text x="366.20" y="516.88" font-size="6.05" fill="#58595b" stroke="#58595b" stroke-width="0.18" textLength="82.60" lengthAdjust="spacingAndGlyphs">Nuclear / hormone receptor</text>
<text x="366.20" y="522.88" font-size="6.05" fill="#23a877" stroke="#23a877" stroke-width="0" font-weight="bold" textLength="42.60" lengthAdjust="spacingAndGlyphs">Histone kinase</text>
<text x="366.20" y="529.08" font-size="6.05" fill="#7c8fd0" stroke="#7c8fd0" stroke-width="0" font-weight="bold" textLength="78.90" lengthAdjust="spacingAndGlyphs">Protein arginine deiminase</text>
<text x="366.20" y="535.08" font-size="6.05" fill="#7a2a92" stroke="#7a2a92" stroke-width="0" font-weight="bold" textLength="40.30" lengthAdjust="spacingAndGlyphs">Aurora kinase</text>
<text x="361.80" y="493.38" font-size="6.6" fill="#231f20" stroke="#231f20" stroke-width="0" font-weight="bold" font-style="italic" text-anchor="middle">#</text>
<text x="360.60" y="505.08" font-size="6.6" fill="#231f20" stroke="#231f20" stroke-width="0" font-weight="bold" font-style="italic" text-anchor="middle">##</text>
<text x="9.0" y="556.3" font-size="11.7" font-weight="bold" fill="#000">H</text>
<text x="82.90" y="560.18" font-size="10.78" fill="#231f20" stroke="#231f20" stroke-width="0.18" textLength="96.90" lengthAdjust="spacingAndGlyphs">DNA methylation level</text>
<text x="70.80" y="569.43" font-size="8.14" fill="#231f20" stroke="#231f20" stroke-width="0.18" text-anchor="middle" textLength="12.50" lengthAdjust="spacingAndGlyphs">100</text>
<text x="90.60" y="569.43" font-size="8.14" fill="#231f20" stroke="#231f20" stroke-width="0.18" text-anchor="middle" textLength="8.33" lengthAdjust="spacingAndGlyphs">80</text>
<text x="113.30" y="569.43" font-size="8.14" fill="#231f20" stroke="#231f20" stroke-width="0.18" text-anchor="middle" textLength="8.33" lengthAdjust="spacingAndGlyphs">60</text>
<text x="135.90" y="569.43" font-size="8.14" fill="#231f20" stroke="#231f20" stroke-width="0.18" text-anchor="middle" textLength="8.33" lengthAdjust="spacingAndGlyphs">40</text>
<text x="158.30" y="569.43" font-size="8.14" fill="#231f20" stroke="#231f20" stroke-width="0.18" text-anchor="middle" textLength="8.33" lengthAdjust="spacingAndGlyphs">20</text>
<text x="181.70" y="569.43" font-size="8.14" fill="#231f20" stroke="#231f20" stroke-width="0.18" text-anchor="middle" textLength="4.17" lengthAdjust="spacingAndGlyphs">0</text>
<rect x="70.80" y="571.90" width="112.20" height="7.60" fill="url(#hbar)"/>
<rect x="25.40" y="588.90" width="17.70" height="7.53" fill="#fdb97a"/>
<rect x="25.40" y="596.38" width="17.70" height="7.53" fill="#fec783"/>
<rect x="25.40" y="603.87" width="17.70" height="7.53" fill="#e1f3f7"/>
<rect x="25.40" y="611.35" width="17.70" height="7.53" fill="#4a78b8"/>
<rect x="25.40" y="618.83" width="17.70" height="7.53" fill="#4a78b8"/>
<rect x="25.40" y="626.32" width="17.70" height="7.53" fill="#4a78b8"/>
<rect x="43.05" y="588.90" width="17.70" height="7.53" fill="#fdbb7d"/>
<rect x="43.05" y="596.38" width="17.70" height="7.53" fill="#fee191"/>
<rect x="43.05" y="603.87" width="17.70" height="7.53" fill="#fdad6a"/>
<rect x="43.05" y="611.35" width="17.70" height="7.53" fill="#d8382a"/>
<rect x="43.05" y="618.83" width="17.70" height="7.53" fill="#4a78b8"/>
<rect x="43.05" y="626.32" width="17.70" height="7.53" fill="#4a78b8"/>
<rect x="60.69" y="588.90" width="17.70" height="7.53" fill="#eef3e2"/>
<rect x="60.69" y="596.38" width="17.70" height="7.53" fill="#fef8cb"/>
<rect x="60.69" y="603.87" width="17.70" height="7.53" fill="#fdc17f"/>
<rect x="60.69" y="611.35" width="17.70" height="7.53" fill="#ef6a45"/>
<rect x="60.69" y="618.83" width="17.70" height="7.53" fill="#fdb56f"/>
<rect x="60.69" y="626.32" width="17.70" height="7.53" fill="#fdc27f"/>
<rect x="78.34" y="588.90" width="17.70" height="7.53" fill="#fef7c9"/>
<rect x="78.34" y="596.38" width="17.70" height="7.53" fill="#fee9a3"/>
<rect x="78.34" y="603.87" width="17.70" height="7.53" fill="#fb9c61"/>
<rect x="78.34" y="611.35" width="17.70" height="7.53" fill="#f0643f"/>
<rect x="78.34" y="618.83" width="17.70" height="7.53" fill="#fba265"/>
<rect x="78.34" y="626.32" width="17.70" height="7.53" fill="#fba265"/>
<rect x="95.98" y="588.90" width="17.70" height="7.53" fill="#fef6c6"/>
<rect x="95.98" y="596.38" width="17.70" height="7.53" fill="#fcf5d5"/>
<rect x="95.98" y="603.87" width="17.70" height="7.53" fill="#fed88c"/>
<rect x="95.98" y="611.35" width="17.70" height="7.53" fill="#f47b4c"/>
<rect x="95.98" y="618.83" width="17.70" height="7.53" fill="#fdd08a"/>
<rect x="95.98" y="626.32" width="17.70" height="7.53" fill="#fdd08a"/>
<rect x="113.63" y="588.90" width="17.70" height="7.53" fill="#fdc57c"/>
<rect x="113.63" y="596.38" width="17.70" height="7.53" fill="#fef4ad"/>
<rect x="113.63" y="603.87" width="17.70" height="7.53" fill="#feeda4"/>
<rect x="113.63" y="611.35" width="17.70" height="7.53" fill="#f88f59"/>
<rect x="113.63" y="618.83" width="17.70" height="7.53" fill="#f88f59"/>
<rect x="113.63" y="626.32" width="17.70" height="7.53" fill="#f88f59"/>
<rect x="131.27" y="588.90" width="17.70" height="7.53" fill="#f98a57"/>
<rect x="131.27" y="596.38" width="17.70" height="7.53" fill="#fba166"/>
<rect x="131.27" y="603.87" width="17.70" height="7.53" fill="#f67549"/>
<rect x="131.27" y="611.35" width="17.70" height="7.53" fill="#da3b2b"/>
<rect x="131.27" y="618.83" width="17.70" height="7.53" fill="#da3b2b"/>
<rect x="131.27" y="626.32" width="17.70" height="7.53" fill="#da3b2b"/>
<rect x="148.92" y="588.90" width="17.70" height="7.53" fill="#e64f37"/>
<rect x="148.92" y="596.38" width="17.70" height="7.53" fill="#f8844f"/>
<rect x="148.92" y="603.87" width="17.70" height="7.53" fill="#ef6443"/>
<rect x="148.92" y="611.35" width="17.70" height="7.53" fill="#d93a2a"/>
<rect x="148.92" y="618.83" width="17.70" height="7.53" fill="#d93a2a"/>
<rect x="148.92" y="626.32" width="17.70" height="7.53" fill="#d93a2a"/>
<rect x="166.56" y="588.90" width="17.70" height="7.53" fill="#f57b4a"/>
<rect x="166.56" y="596.38" width="17.70" height="7.53" fill="#fa9a5f"/>
<rect x="166.56" y="603.87" width="17.70" height="7.53" fill="#f8f6d3"/>
<rect x="166.56" y="611.35" width="17.70" height="7.53" fill="#e44a34"/>
<rect x="166.56" y="618.83" width="17.70" height="7.53" fill="#e44a34"/>
<rect x="166.56" y="626.32" width="17.70" height="7.53" fill="#e44a34"/>
<rect x="184.21" y="588.90" width="17.70" height="7.53" fill="#f88650"/>
<rect x="184.21" y="596.38" width="17.70" height="7.53" fill="#fdb46f"/>
<rect x="184.21" y="603.87" width="17.70" height="7.53" fill="#f98c56"/>
<rect x="184.21" y="611.35" width="17.70" height="7.53" fill="#dd3d2d"/>
<rect x="184.21" y="618.83" width="17.70" height="7.53" fill="#dd3d2d"/>
<rect x="184.21" y="626.32" width="17.70" height="7.53" fill="#dd3d2d"/>
<rect x="201.85" y="588.90" width="17.70" height="7.53" fill="#e8563b"/>
<rect x="201.85" y="596.38" width="17.70" height="7.53" fill="#d9392a"/>
<rect x="201.85" y="603.87" width="17.70" height="7.53" fill="#e44c35"/>
<rect x="201.85" y="611.35" width="17.70" height="7.53" fill="#da3a2b"/>
<rect x="201.85" y="618.83" width="17.70" height="7.53" fill="#da3a2b"/>
<rect x="201.85" y="626.32" width="17.70" height="7.53" fill="#da3a2b"/>
<line x1="25.40" y1="588.90" x2="25.40" y2="633.80" stroke="#a8968a" stroke-width="0.5" stroke-opacity="0.8"/>
<line x1="43.05" y1="588.90" x2="43.05" y2="633.80" stroke="#a8968a" stroke-width="0.5" stroke-opacity="0.8"/>
<line x1="60.69" y1="588.90" x2="60.69" y2="633.80" stroke="#a8968a" stroke-width="0.5" stroke-opacity="0.8"/>
<line x1="78.34" y1="588.90" x2="78.34" y2="633.80" stroke="#a8968a" stroke-width="0.5" stroke-opacity="0.8"/>
<line x1="95.98" y1="588.90" x2="95.98" y2="633.80" stroke="#a8968a" stroke-width="0.5" stroke-opacity="0.8"/>
<line x1="113.63" y1="588.90" x2="113.63" y2="633.80" stroke="#a8968a" stroke-width="0.5" stroke-opacity="0.8"/>
<line x1="131.27" y1="588.90" x2="131.27" y2="633.80" stroke="#a8968a" stroke-width="0.5" stroke-opacity="0.8"/>
<line x1="148.92" y1="588.90" x2="148.92" y2="633.80" stroke="#a8968a" stroke-width="0.5" stroke-opacity="0.8"/>
<line x1="166.56" y1="588.90" x2="166.56" y2="633.80" stroke="#a8968a" stroke-width="0.5" stroke-opacity="0.8"/>
<line x1="184.21" y1="588.90" x2="184.21" y2="633.80" stroke="#a8968a" stroke-width="0.5" stroke-opacity="0.8"/>
<line x1="201.85" y1="588.90" x2="201.85" y2="633.80" stroke="#a8968a" stroke-width="0.5" stroke-opacity="0.8"/>
<line x1="219.50" y1="588.90" x2="219.50" y2="633.80" stroke="#a8968a" stroke-width="0.5" stroke-opacity="0.8"/>
<line x1="25.40" y1="588.90" x2="219.50" y2="588.90" stroke="#a8968a" stroke-width="0.5" stroke-opacity="0.8"/>
<line x1="25.40" y1="596.38" x2="219.50" y2="596.38" stroke="#a8968a" stroke-width="0.5" stroke-opacity="0.8"/>
<line x1="25.40" y1="603.87" x2="219.50" y2="603.87" stroke="#a8968a" stroke-width="0.5" stroke-opacity="0.8"/>
<line x1="25.40" y1="611.35" x2="219.50" y2="611.35" stroke="#a8968a" stroke-width="0.5" stroke-opacity="0.8"/>
<line x1="25.40" y1="618.83" x2="219.50" y2="618.83" stroke="#a8968a" stroke-width="0.5" stroke-opacity="0.8"/>
<line x1="25.40" y1="626.32" x2="219.50" y2="626.32" stroke="#a8968a" stroke-width="0.5" stroke-opacity="0.8"/>
<line x1="25.40" y1="633.80" x2="219.50" y2="633.80" stroke="#a8968a" stroke-width="0.5" stroke-opacity="0.8"/>
<text x="27.62" y="651.68" font-size="6.6" fill="#3a3a3a" stroke="#3a3a3a" stroke-width="0.18" textLength="13.20" lengthAdjust="spacingAndGlyphs">M080</text>
<line x1="27.62" y1="651.90" x2="40.82" y2="651.90" stroke="#9a9a9a" stroke-width="0.4"/>
<text x="45.27" y="651.68" font-size="6.6" fill="#3a3a3a" stroke="#3a3a3a" stroke-width="0.18" textLength="13.20" lengthAdjust="spacingAndGlyphs">M070</text>
<line x1="45.27" y1="651.90" x2="58.47" y2="651.90" stroke="#9a9a9a" stroke-width="0.4"/>
<text x="62.91" y="651.68" font-size="6.6" fill="#3a3a3a" stroke="#3a3a3a" stroke-width="0.18" textLength="13.20" lengthAdjust="spacingAndGlyphs">M105</text>
<line x1="62.91" y1="651.90" x2="76.11" y2="651.90" stroke="#9a9a9a" stroke-width="0.4"/>
<text x="80.56" y="651.68" font-size="6.6" fill="#3a3a3a" stroke="#3a3a3a" stroke-width="0.18" textLength="13.20" lengthAdjust="spacingAndGlyphs">M106</text>
<line x1="80.56" y1="651.90" x2="93.76" y2="651.90" stroke="#9a9a9a" stroke-width="0.4"/>
<text x="98.20" y="651.68" font-size="6.6" fill="#3a3a3a" stroke="#3a3a3a" stroke-width="0.18" textLength="13.20" lengthAdjust="spacingAndGlyphs">M107</text>
<line x1="98.20" y1="651.90" x2="111.40" y2="651.90" stroke="#9a9a9a" stroke-width="0.4"/>
<text x="115.85" y="651.68" font-size="6.6" fill="#3a3a3a" stroke="#3a3a3a" stroke-width="0.18" textLength="13.20" lengthAdjust="spacingAndGlyphs">M024</text>
<line x1="115.85" y1="651.90" x2="129.05" y2="651.90" stroke="#9a9a9a" stroke-width="0.4"/>
<text x="133.50" y="651.68" font-size="6.6" fill="#3a3a3a" stroke="#3a3a3a" stroke-width="0.18" textLength="13.20" lengthAdjust="spacingAndGlyphs">M003</text>
<line x1="133.50" y1="651.90" x2="146.70" y2="651.90" stroke="#9a9a9a" stroke-width="0.4"/>
<text x="151.14" y="651.68" font-size="6.6" fill="#3a3a3a" stroke="#3a3a3a" stroke-width="0.18" textLength="13.20" lengthAdjust="spacingAndGlyphs">M071</text>
<line x1="151.14" y1="651.90" x2="164.34" y2="651.90" stroke="#9a9a9a" stroke-width="0.4"/>
<text x="168.79" y="651.68" font-size="6.6" fill="#3a3a3a" stroke="#3a3a3a" stroke-width="0.18" textLength="13.20" lengthAdjust="spacingAndGlyphs">M039</text>
<line x1="168.79" y1="651.90" x2="181.99" y2="651.90" stroke="#9a9a9a" stroke-width="0.4"/>
<text x="186.43" y="651.68" font-size="6.6" fill="#3a3a3a" stroke="#3a3a3a" stroke-width="0.18" textLength="13.20" lengthAdjust="spacingAndGlyphs">M042</text>
<line x1="186.43" y1="651.90" x2="199.63" y2="651.90" stroke="#9a9a9a" stroke-width="0.4"/>
<text x="204.08" y="651.68" font-size="6.6" fill="#3a3a3a" stroke="#3a3a3a" stroke-width="0.18" textLength="13.20" lengthAdjust="spacingAndGlyphs">M014</text>
<line x1="204.08" y1="651.90" x2="217.28" y2="651.90" stroke="#9a9a9a" stroke-width="0.4"/>
<text x="122.45" y="643.03" font-size="9.24" fill="#231f20" stroke="#231f20" stroke-width="0.18" text-anchor="middle">CP</text>
<text x="140.10" y="643.03" font-size="9.24" fill="#231f20" stroke="#231f20" stroke-width="0.18" text-anchor="middle">CP</text>
<text x="157.74" y="643.03" font-size="9.24" fill="#231f20" stroke="#231f20" stroke-width="0.18" text-anchor="middle">CP</text>
<text x="175.39" y="643.03" font-size="9.24" fill="#231f20" stroke="#231f20" stroke-width="0.18" text-anchor="middle">BP</text>
<text x="193.03" y="643.03" font-size="9.24" fill="#231f20" stroke="#231f20" stroke-width="0.18" text-anchor="middle">BP</text>
<text x="210.68" y="643.03" font-size="9.24" fill="#231f20" stroke="#231f20" stroke-width="0.18" text-anchor="middle">BP</text>
<line x1="27.90" y1="654.00" x2="59.90" y2="654.00" stroke="#8a8a8a" stroke-width="1.2"/>
<line x1="63.80" y1="654.00" x2="112.60" y2="654.00" stroke="#8a8a8a" stroke-width="1.2"/>
<line x1="116.50" y1="654.00" x2="218.50" y2="654.00" stroke="#8a8a8a" stroke-width="1.2"/>
<text x="38.30" y="663.71" font-size="9.46" fill="#231f20" stroke="#231f20" stroke-width="0.18" textLength="10.50" lengthAdjust="spacingAndGlyphs">CB</text>
<text x="70.40" y="663.71" font-size="9.46" fill="#231f20" stroke="#231f20" stroke-width="0.18" textLength="35.60" lengthAdjust="spacingAndGlyphs">Adult BM</text>
<text x="158.90" y="663.51" font-size="9.46" fill="#231f20" stroke="#231f20" stroke-width="0.18" textLength="18.00" lengthAdjust="spacingAndGlyphs">CML</text>
<text x="221.90" y="558.75" font-size="9.57" fill="#231f20" stroke="#231f20" stroke-width="0.18" textLength="69.30" lengthAdjust="spacingAndGlyphs">Chromosome 11</text>
<text x="239.30" y="572.25" font-size="9.02" fill="#231f20" stroke="#231f20" stroke-width="0.18" textLength="27.20" lengthAdjust="spacingAndGlyphs">MS4A3</text>
<text x="230.40" y="581.15" font-size="9.02" fill="#231f20" stroke="#231f20" stroke-width="0.18" textLength="45.40" lengthAdjust="spacingAndGlyphs">CpG islands</text>
<line x1="223.90" y1="584.70" x2="281.90" y2="584.70" stroke="#6d6e71" stroke-width="1.0"/>
<text x="225.00" y="595.09" font-size="7.37" fill="#231f20" stroke="#231f20" stroke-width="0.18" textLength="57.70" lengthAdjust="spacingAndGlyphs">chr11:59,824,115</text>
<text x="225.00" y="602.58" font-size="7.37" fill="#231f20" stroke="#231f20" stroke-width="0.18" textLength="57.70" lengthAdjust="spacingAndGlyphs">chr11:59,824,088</text>
<text x="225.00" y="610.06" font-size="7.37" fill="#231f20" stroke="#231f20" stroke-width="0.18" textLength="57.70" lengthAdjust="spacingAndGlyphs">chr11:59,824,109</text>
<text x="225.00" y="617.54" font-size="7.37" fill="#231f20" stroke="#231f20" stroke-width="0.18" textLength="57.70" lengthAdjust="spacingAndGlyphs">chr11:59,824,259</text>
<text x="225.00" y="625.03" font-size="7.37" fill="#231f20" stroke="#231f20" stroke-width="0.18" textLength="57.70" lengthAdjust="spacingAndGlyphs">chr11:59,824,186</text>
<text x="225.00" y="632.51" font-size="7.37" fill="#231f20" stroke="#231f20" stroke-width="0.18" textLength="57.70" lengthAdjust="spacingAndGlyphs">chr11:59,824,160</text>
<text x="304.6" y="558.1" font-size="11.7" font-weight="bold" fill="#000">I</text>
<text x="328.00" y="569.37" font-size="8.8" fill="#231f20" stroke="#231f20" stroke-width="0.18" textLength="32.80" lengthAdjust="spacingAndGlyphs">CB CD34</text>
<text x="362.60" y="565.38" font-size="5.5" fill="#231f20" stroke="#231f20" stroke-width="0.18" text-anchor="middle">+</text>
<line x1="381.30" y1="557.00" x2="381.30" y2="564.40" stroke="#5a5a5a" stroke-width="0.8"/>
<line x1="387.50" y1="557.00" x2="387.50" y2="564.40" stroke="#5a5a5a" stroke-width="0.8"/>
<line x1="393.90" y1="557.00" x2="393.90" y2="564.40" stroke="#5a5a5a" stroke-width="0.8"/>
<line x1="403.70" y1="557.00" x2="403.70" y2="564.40" stroke="#5a5a5a" stroke-width="0.8"/>
<line x1="409.80" y1="557.00" x2="409.80" y2="564.40" stroke="#5a5a5a" stroke-width="0.8"/>
<line x1="416.20" y1="557.00" x2="416.20" y2="564.40" stroke="#5a5a5a" stroke-width="0.8"/>
<rect x="368.50" y="564.40" width="54.90" height="4.20" fill="#c7c8ca" stroke="#6d6e71" stroke-width="0.7"/>
<circle cx="381.30" cy="554.80" r="2.3" fill="#ffffff" stroke="#4a4a4a" stroke-width="0.7"/>
<circle cx="387.50" cy="554.80" r="2.3" fill="#ffffff" stroke="#4a4a4a" stroke-width="0.7"/>
<circle cx="393.90" cy="554.80" r="2.3" fill="#ffffff" stroke="#4a4a4a" stroke-width="0.7"/>
<circle cx="403.70" cy="554.80" r="2.3" fill="#8d8e90" stroke="#4a4a4a" stroke-width="0.7"/>
<circle cx="409.80" cy="554.80" r="2.3" fill="#8d8e90" stroke="#4a4a4a" stroke-width="0.7"/>
<circle cx="416.20" cy="554.80" r="2.3" fill="#8d8e90" stroke="#4a4a4a" stroke-width="0.7"/>
<rect x="423.4" y="559.4" width="64.6" height="14.2" fill="#f7f7fb" stroke="#6d6e71" stroke-width="0.8"/>
<line x1="423.40" y1="566.40" x2="448.00" y2="566.40" stroke="#0c6a4d" stroke-width="1.5"/>
<path d="M446.5,563.8 L453.2,566.4 L446.5,569.0 Z" fill="#0c6a4d"/>
<text x="458.40" y="569.27" font-size="9.35" fill="#231f20" stroke="#231f20" stroke-width="0.18" font-style="italic" textLength="25.50" lengthAdjust="spacingAndGlyphs">MS4A3</text>
<text x="331.20" y="594.67" font-size="8.8" fill="#231f20" stroke="#231f20" stroke-width="0.18" textLength="33.40" lengthAdjust="spacingAndGlyphs">Adult BM</text>
<text x="340.30" y="603.57" font-size="8.8" fill="#231f20" stroke="#231f20" stroke-width="0.18" textLength="20.50" lengthAdjust="spacingAndGlyphs">CD34</text>
<text x="362.60" y="599.58" font-size="5.5" fill="#231f20" stroke="#231f20" stroke-width="0.18" text-anchor="middle">+</text>
<line x1="381.30" y1="588.30" x2="381.30" y2="595.20" stroke="#5a5a5a" stroke-width="0.8"/>
<line x1="387.50" y1="588.30" x2="387.50" y2="595.20" stroke="#5a5a5a" stroke-width="0.8"/>
<line x1="393.90" y1="588.30" x2="393.90" y2="595.20" stroke="#5a5a5a" stroke-width="0.8"/>
<line x1="403.70" y1="588.30" x2="403.70" y2="595.20" stroke="#5a5a5a" stroke-width="0.8"/>
<line x1="409.80" y1="588.30" x2="409.80" y2="595.20" stroke="#5a5a5a" stroke-width="0.8"/>
<line x1="416.20" y1="588.30" x2="416.20" y2="595.20" stroke="#5a5a5a" stroke-width="0.8"/>
<rect x="368.50" y="595.20" width="54.90" height="3.70" fill="#c7c8ca" stroke="#6d6e71" stroke-width="0.7"/>
<circle cx="381.30" cy="586.10" r="2.3" fill="#8d8e90" stroke="#4a4a4a" stroke-width="0.7"/>
<circle cx="387.50" cy="586.10" r="2.3" fill="#8d8e90" stroke="#4a4a4a" stroke-width="0.7"/>
<circle cx="393.90" cy="586.10" r="2.3" fill="#8d8e90" stroke="#4a4a4a" stroke-width="0.7"/>
<circle cx="403.70" cy="586.10" r="2.3" fill="#8d8e90" stroke="#4a4a4a" stroke-width="0.7"/>
<circle cx="409.80" cy="586.10" r="2.3" fill="#8d8e90" stroke="#4a4a4a" stroke-width="0.7"/>
<circle cx="416.20" cy="586.10" r="2.3" fill="#8d8e90" stroke="#4a4a4a" stroke-width="0.7"/>
<rect x="423.4" y="590.1" width="64.6" height="13.7" fill="#f7f7fb" stroke="#6d6e71" stroke-width="0.8"/>
<line x1="423.40" y1="596.80" x2="448.50" y2="596.80" stroke="#2b8b72" stroke-width="0.9"/>
<path d="M447.5,594.6 L452.9,596.8 L447.5,599.0 Z" fill="#2b8b72"/>
<text x="457.70" y="599.97" font-size="9.35" fill="#231f20" stroke="#231f20" stroke-width="0.18" font-style="italic" textLength="25.60" lengthAdjust="spacingAndGlyphs">MS4A3</text>
<text x="321.60" y="630.77" font-size="8.8" fill="#231f20" stroke="#231f20" stroke-width="0.18" textLength="39.20" lengthAdjust="spacingAndGlyphs">CML CD34</text>
<text x="362.60" y="626.78" font-size="5.5" fill="#231f20" stroke="#231f20" stroke-width="0.18" text-anchor="middle">+</text>
<line x1="381.30" y1="618.80" x2="381.30" y2="626.40" stroke="#5a5a5a" stroke-width="0.8"/>
<line x1="387.50" y1="618.80" x2="387.50" y2="626.40" stroke="#5a5a5a" stroke-width="0.8"/>
<line x1="393.90" y1="618.80" x2="393.90" y2="626.40" stroke="#5a5a5a" stroke-width="0.8"/>
<line x1="403.70" y1="618.80" x2="403.70" y2="626.40" stroke="#5a5a5a" stroke-width="0.8"/>
<line x1="409.80" y1="618.80" x2="409.80" y2="626.40" stroke="#5a5a5a" stroke-width="0.8"/>
<line x1="416.20" y1="618.80" x2="416.20" y2="626.40" stroke="#5a5a5a" stroke-width="0.8"/>
<rect x="369.20" y="626.40" width="54.20" height="3.60" fill="#c7c8ca" stroke="#6d6e71" stroke-width="0.7"/>
<rect x="378.80" y="614.10" width="5.0" height="5.0" rx="1.7" fill="#000"/>
<rect x="385.00" y="614.10" width="5.0" height="5.0" rx="1.7" fill="#000"/>
<rect x="391.40" y="614.10" width="5.0" height="5.0" rx="1.7" fill="#000"/>
<rect x="401.20" y="614.10" width="5.0" height="5.0" rx="1.7" fill="#000"/>
<rect x="407.30" y="614.10" width="5.0" height="5.0" rx="1.7" fill="#000"/>
<rect x="413.70" y="614.10" width="5.0" height="5.0" rx="1.7" fill="#000"/>
<rect x="423.4" y="621.3" width="65.1" height="14.1" fill="#f7f7fb" stroke="#6d6e71" stroke-width="0.8"/>
<line x1="423.40" y1="628.50" x2="452.90" y2="628.50" stroke="#e5707f" stroke-width="0.9"/>
<line x1="452.90" y1="626.40" x2="452.90" y2="630.60" stroke="#e5707f" stroke-width="0.9"/>
<text x="456.70" y="631.57" font-size="9.35" fill="#231f20" stroke="#231f20" stroke-width="0.18" font-style="italic" textLength="26.00" lengthAdjust="spacingAndGlyphs">MS4A3</text>
<text x="377.70" y="639.47" font-size="8.8" fill="#231f20" stroke="#231f20" stroke-width="0.18" textLength="42.10" lengthAdjust="spacingAndGlyphs">CpG islands</text>
<rect x="353.4" y="647.6" width="118.1" height="13.0" fill="#fff" stroke="#6d6e71" stroke-width="0.8"/>
<text x="360.80" y="657.47" font-size="8.8" fill="#231f20" stroke="#231f20" stroke-width="0.18" textLength="60.00" lengthAdjust="spacingAndGlyphs">Methylation level</text>
<rect x="430.0" y="652.3" width="4.6" height="4.6" rx="1.0" fill="#fff" stroke="#231f20" stroke-width="0.7"/>
<text x="440.40" y="657.77" font-size="8.8" fill="#231f20" stroke="#231f20" stroke-width="0.18" text-anchor="middle">&lt;</text>
<rect x="446.7" y="652.3" width="4.6" height="4.6" rx="1.0" fill="#8d8e90" stroke="#4a4a4a" stroke-width="0.7"/>
<text x="457.30" y="657.77" font-size="8.8" fill="#231f20" stroke="#231f20" stroke-width="0.18" text-anchor="middle">&lt;</text>
<rect x="463.1" y="652.3" width="4.6" height="4.6" rx="1.4" fill="#000"/>
<rect x="0.5" y="0.5" width="519" height="669.4" fill="none" stroke="#000" stroke-width="1"/>
<rect x="0.00" y="669.40" width="520.00" height="1.60" fill="#000"/>
</svg>
</body></html>
